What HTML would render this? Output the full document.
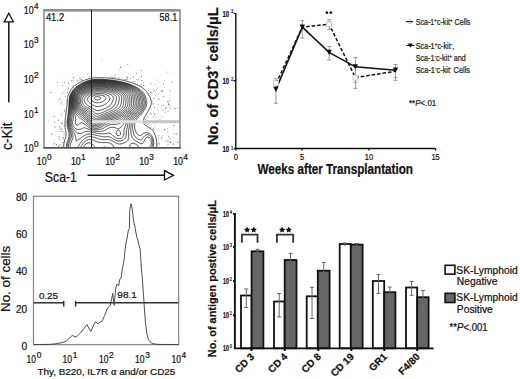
<!DOCTYPE html>
<html><head><meta charset="utf-8">
<style>
html,body{margin:0;padding:0;background:#fff;}
body{width:520px;height:379px;overflow:hidden;}
svg{display:block;font-family:"Liberation Sans",sans-serif;}
text{stroke:#111;stroke-width:0.22px;paint-order:stroke;}
</style></head>
<body>
<svg width="520" height="379" viewBox="0 0 520 379">
<rect width="520" height="379" fill="#fff"/>

<!-- ============ TOP-LEFT: flow contour ============ -->
<g id="tl">
  <g id="contours" fill="none" stroke="#000" stroke-width="0.7">
<path d="M63.8 148.0 L63.7 147.5 L63.7 146.8 L63.7 146.0 L63.7 145.2 L63.8 144.7 L63.8 144.0 L64.0 143.2 L64.1 142.8 L64.2 142.0 L64.4 141.5 L64.5 141.0 L64.7 140.2 L64.9 139.8 L65.0 139.2 L65.2 138.5 L65.4 138.0 L65.5 137.5 L65.7 136.8 L65.8 136.2 L65.9 135.5 L65.9 134.8 L66.0 134.0 L66.0 133.2 L65.9 132.5 L65.8 131.8 L65.8 131.1 L65.7 130.5 L65.5 129.8 L65.5 129.2 L65.3 128.5 L65.2 127.9 L65.2 127.2 L65.1 126.5 L65.0 125.8 L65.0 125.2 L65.0 124.5 L65.0 123.8 L65.0 123.0 L65.0 122.2 L65.0 121.8 L65.1 121.0 L65.1 120.2 L65.2 119.5 L65.2 118.9 L65.3 118.2 L65.4 117.5 L65.5 116.8 L65.6 116.2 L65.7 115.5 L65.8 114.9 L65.8 114.2 L65.9 113.5 L66.0 113.0 L66.1 112.2 L66.2 111.5 L66.3 111.0 L66.4 110.2 L66.5 109.5 L66.6 109.0 L66.7 108.2 L66.8 107.5 L66.8 107.0 L66.9 106.2 L67.0 105.5 L67.0 105.0 L67.1 104.2 L67.1 103.5 L67.2 102.8 L67.2 102.0 L67.3 101.5 L67.3 100.8 L67.4 100.0 L67.5 99.2 L67.5 98.8 L67.6 98.0 L67.8 97.3 L67.9 96.8 L68.0 96.2 L68.2 95.5 L68.3 95.0 L68.5 94.5 L68.8 93.9 L69.0 93.3 L69.2 92.8 L69.5 92.3 L69.8 91.8 L70.0 91.4 L70.2 90.9 L70.5 90.5 L70.9 90.0 L71.2 89.5 L71.5 89.2 L71.8 88.8 L72.2 88.3 L72.5 88.0 L72.9 87.5 L73.2 87.2 L73.7 86.8 L74.0 86.5 L74.5 86.0 L74.8 85.8 L75.2 85.4 L75.7 85.0 L76.0 84.8 L76.5 84.4 L77.0 84.1 L77.5 83.8 L77.8 83.5 L78.2 83.2 L78.8 82.9 L79.2 82.6 L79.8 82.3 L80.2 82.1 L80.8 81.8 L81.2 81.5 L81.8 81.3 L82.2 81.1 L82.8 80.8 L83.2 80.6 L83.8 80.4 L84.2 80.2 L84.8 80.0 L85.5 79.8 L86.0 79.6 L86.5 79.4 L87.1 79.2 L87.8 79.1 L88.2 78.9 L88.9 78.8 L89.5 78.6 L90.0 78.5 L90.8 78.4 L91.3 78.2 L92.0 78.1 L92.8 78.0 L93.2 78.0 L94.0 77.9 L94.8 77.8 L95.5 77.8 L96.0 77.7 L96.8 77.7 L97.5 77.7 L98.2 77.7 L99.0 77.7 L99.8 77.7 L100.5 77.7 L101.2 77.7 L102.0 77.7 L102.5 77.8 L103.2 77.8 L104.0 77.8 L104.8 77.8 L105.5 77.9 L106.2 77.9 L107.0 78.0 L107.5 78.0 L108.2 78.1 L109.0 78.1 L109.8 78.2 L110.2 78.3 L111.0 78.3 L111.8 78.4 L112.4 78.5 L113.0 78.6 L113.8 78.7 L114.4 78.8 L115.0 78.8 L115.8 78.9 L116.2 79.0 L117.0 79.1 L117.8 79.2 L118.2 79.3 L119.0 79.5 L119.5 79.6 L120.2 79.7 L120.8 79.8 L121.5 79.9 L122.0 80.0 L122.8 80.2 L123.2 80.3 L124.0 80.5 L124.5 80.6 L125.1 80.8 L125.8 80.9 L126.2 81.1 L127.0 81.2 L127.5 81.4 L128.0 81.5 L128.7 81.8 L129.2 81.9 L129.8 82.1 L130.3 82.2 L131.0 82.5 L131.5 82.6 L132.0 82.8 L132.5 83.0 L133.2 83.2 L133.8 83.5 L134.2 83.7 L134.8 83.9 L135.2 84.1 L135.8 84.3 L136.2 84.5 L136.8 84.8 L137.3 85.0 L137.8 85.2 L138.3 85.5 L138.8 85.8 L139.3 86.0 L139.8 86.3 L140.2 86.5 L140.8 86.8 L141.2 87.1 L141.8 87.5 L142.2 87.8 L142.5 88.0 L143.0 88.3 L143.5 88.7 L143.9 89.0 L144.2 89.3 L144.8 89.7 L145.0 90.0 L145.5 90.4 L145.8 90.8 L146.2 91.2 L146.5 91.5 L146.9 92.0 L147.2 92.4 L147.5 92.8 L147.9 93.2 L148.2 93.8 L148.5 94.2 L148.8 94.7 L149.0 95.1 L149.2 95.6 L149.5 96.1 L149.8 96.6 L150.0 97.2 L150.2 97.8 L150.4 98.2 L150.6 98.8 L150.8 99.2 L151.0 100.0 L151.1 100.5 L151.2 101.1 L151.3 101.8 L151.3 102.5 L151.3 103.2 L151.2 103.8 L151.1 104.5 L150.9 105.0 L150.8 105.5 L150.5 106.2 L150.3 106.8 L150.1 107.2 L149.9 107.8 L149.6 108.2 L149.4 108.8 L149.1 109.2 L148.9 109.8 L148.6 110.2 L148.3 110.8 L148.0 111.2 L147.8 111.7 L147.5 112.1 L147.2 112.5 L147.0 113.0 L146.7 113.5 L146.3 114.0 L146.0 114.5 L145.8 115.0 L145.5 115.4 L145.2 115.8 L145.0 116.3 L144.7 116.8 L144.5 117.2 L144.2 117.8 L144.0 118.3 L143.8 119.0 L143.6 119.5 L143.5 120.0 L143.4 120.8 L143.3 121.5 L143.4 122.2 L143.5 122.8 L143.8 123.4 L144.0 123.8 L144.3 124.2 L144.7 124.8 L145.0 125.0 L145.5 125.4 L145.9 125.8 L146.3 126.0 L146.8 126.3 L147.2 126.6 L147.8 126.8 L148.2 127.1 L148.8 127.4 L149.2 127.7 L149.7 128.0 L150.1 128.2 L150.5 128.5 L151.0 128.9 L151.4 129.2 L151.8 129.6 L152.1 130.0 L152.5 130.4 L152.8 130.8 L153.2 131.2 L153.5 131.8 L153.8 132.2 L154.0 132.6 L154.2 133.1 L154.5 133.6 L154.8 134.2 L155.0 134.8 L155.2 135.2 L155.4 135.8 L155.5 136.2 L155.7 137.0 L155.9 137.5 L156.0 138.0 L156.2 138.8 L156.3 139.2 L156.4 140.0 L156.5 140.5 L156.6 141.2 L156.7 142.0 L156.8 142.5 L156.8 143.2 L156.8 144.0 L156.8 144.8 L156.8 145.5 L156.7 146.0 L156.6 146.8 L156.5 147.5 L156.4 148.0"/>
<path d="M66.5 148.0 L66.4 147.2 L66.4 146.5 L66.4 145.8 L66.5 145.0 L66.5 144.5 L66.7 143.8 L66.8 143.2 L67.0 142.7 L67.2 142.0 L67.4 141.5 L67.6 141.0 L67.8 140.5 L68.0 139.9 L68.2 139.2 L68.4 138.8 L68.6 138.2 L68.8 137.6 L68.9 137.0 L69.0 136.4 L69.1 135.8 L69.1 135.0 L69.1 134.2 L69.0 133.5 L69.0 133.0 L68.8 132.2 L68.7 131.8 L68.5 131.0 L68.4 130.5 L68.2 129.9 L68.1 129.2 L67.9 128.8 L67.8 128.1 L67.6 127.5 L67.5 127.0 L67.3 126.2 L67.2 125.7 L67.2 125.0 L67.1 124.2 L67.1 123.5 L67.1 122.8 L67.1 122.0 L67.1 121.2 L67.2 120.5 L67.2 119.8 L67.3 119.2 L67.4 118.5 L67.5 117.8 L67.6 117.2 L67.7 116.5 L67.8 115.9 L67.8 115.2 L67.9 114.5 L68.0 114.0 L68.1 113.2 L68.2 112.5 L68.3 112.0 L68.3 111.2 L68.4 110.5 L68.5 109.8 L68.5 109.2 L68.6 108.5 L68.7 107.8 L68.8 107.1 L68.8 106.5 L68.9 105.8 L68.9 105.0 L68.9 104.2 L69.0 103.5 L69.0 102.8 L69.0 102.2 L69.1 101.5 L69.1 100.8 L69.2 100.0 L69.2 99.2 L69.3 98.8 L69.4 98.0 L69.5 97.5 L69.7 96.8 L69.8 96.2 L70.0 95.6 L70.2 95.0 L70.4 94.5 L70.6 94.0 L70.9 93.5 L71.1 93.0 L71.4 92.5 L71.7 92.0 L72.0 91.5 L72.2 91.2 L72.6 90.8 L73.0 90.2 L73.2 89.9 L73.6 89.5 L74.0 89.0 L74.3 88.8 L74.8 88.3 L75.0 88.0 L75.5 87.6 L75.9 87.2 L76.2 86.9 L76.8 86.5 L77.1 86.2 L77.5 86.0 L78.0 85.6 L78.5 85.3 L78.9 85.0 L79.3 84.8 L79.8 84.4 L80.2 84.1 L80.8 83.8 L81.2 83.6 L81.8 83.3 L82.2 83.0 L82.8 82.8 L83.2 82.5 L83.8 82.3 L84.2 82.1 L84.8 81.9 L85.2 81.7 L85.8 81.5 L86.4 81.2 L87.0 81.0 L87.5 80.9 L88.0 80.7 L88.8 80.5 L89.2 80.4 L89.8 80.2 L90.5 80.1 L91.0 80.0 L91.8 79.8 L92.3 79.8 L93.0 79.6 L93.8 79.6 L94.2 79.5 L95.0 79.4 L95.8 79.4 L96.5 79.3 L97.2 79.3 L98.0 79.3 L98.8 79.3 L99.5 79.3 L100.2 79.3 L101.0 79.3 L101.8 79.4 L102.5 79.4 L103.2 79.4 L104.0 79.5 L104.8 79.5 L105.2 79.5 L106.0 79.6 L106.8 79.6 L107.5 79.7 L108.2 79.8 L108.8 79.8 L109.5 79.9 L110.2 79.9 L110.8 80.0 L111.5 80.1 L112.2 80.2 L112.8 80.2 L113.5 80.3 L114.2 80.5 L114.8 80.5 L115.5 80.6 L116.2 80.8 L116.8 80.8 L117.5 81.0 L118.0 81.1 L118.8 81.2 L119.2 81.3 L120.0 81.5 L120.5 81.6 L121.2 81.7 L121.8 81.9 L122.3 82.0 L123.0 82.2 L123.5 82.3 L124.2 82.5 L124.8 82.6 L125.2 82.8 L126.0 83.0 L126.5 83.1 L127.0 83.3 L127.7 83.5 L128.2 83.7 L128.8 83.8 L129.2 84.0 L129.9 84.2 L130.5 84.5 L131.0 84.7 L131.5 84.9 L132.0 85.1 L132.5 85.3 L133.0 85.5 L133.5 85.8 L134.1 86.0 L134.6 86.2 L135.1 86.5 L135.6 86.8 L136.0 87.0 L136.5 87.3 L137.0 87.5 L137.5 87.8 L138.0 88.2 L138.5 88.5 L138.9 88.8 L139.2 89.0 L139.8 89.4 L140.2 89.8 L140.5 90.0 L141.0 90.4 L141.4 90.8 L141.8 91.1 L142.1 91.5 L142.5 91.9 L142.8 92.2 L143.2 92.8 L143.5 93.2 L143.8 93.5 L144.1 94.0 L144.4 94.5 L144.6 95.0 L144.9 95.5 L145.1 96.0 L145.3 96.5 L145.5 97.0 L145.7 97.8 L145.9 98.2 L146.0 98.8 L146.2 99.5 L146.4 100.0 L146.5 100.5 L146.7 101.2 L146.8 101.8 L146.8 102.5 L146.8 103.2 L146.8 103.8 L146.6 104.5 L146.5 105.1 L146.3 105.8 L146.1 106.2 L146.0 106.8 L145.8 107.3 L145.5 107.9 L145.2 108.4 L145.0 108.9 L144.8 109.4 L144.5 109.8 L144.2 110.2 L143.9 110.8 L143.6 111.2 L143.2 111.7 L143.0 112.1 L142.7 112.5 L142.3 113.0 L142.0 113.3 L141.7 113.8 L141.2 114.2 L141.0 114.5 L140.5 115.0 L140.2 115.3 L139.8 115.8 L139.5 116.1 L139.1 116.5 L138.8 116.9 L138.4 117.2 L138.0 117.7 L137.7 118.0 L137.3 118.5 L137.0 118.9 L136.7 119.2 L136.4 119.8 L136.0 120.2 L135.8 120.8 L135.5 121.2 L135.3 121.8 L135.2 122.2 L135.0 122.9 L134.9 123.5 L134.8 124.2 L134.7 124.8 L134.7 125.5 L134.7 126.2 L134.7 127.0 L134.7 127.8 L134.8 128.4 L134.9 129.0 L135.0 129.5 L135.2 130.2 L135.4 130.8 L135.6 131.2 L135.8 131.8 L136.1 132.2 L136.3 132.8 L136.6 133.2 L137.0 133.8 L137.2 134.1 L137.6 134.5 L138.0 134.8 L138.5 135.2 L139.0 135.4 L139.5 135.5 L140.1 135.5 L140.8 135.3 L141.2 135.1 L141.7 134.8 L142.1 134.5 L142.5 134.2 L143.0 133.9 L143.5 133.5 L144.0 133.3 L144.5 133.1 L145.0 132.9 L145.6 132.8 L146.2 132.7 L147.0 132.7 L147.5 132.8 L148.2 132.9 L148.8 133.1 L149.2 133.3 L149.8 133.6 L150.2 134.0 L150.5 134.2 L151.0 134.7 L151.2 135.0 L151.6 135.5 L152.0 136.0 L152.2 136.5 L152.5 137.0 L152.7 137.5 L152.9 138.0 L153.1 138.5 L153.3 139.0 L153.5 139.8 L153.6 140.2 L153.7 141.0 L153.8 141.7 L153.8 142.2 L153.8 143.0 L153.8 143.8 L153.7 144.2 L153.6 145.0 L153.5 145.6 L153.4 146.2 L153.2 146.8 L153.0 147.5 L152.9 148.0"/>
<path d="M67.4 148.0 L67.3 147.2 L67.3 146.5 L67.3 145.8 L67.4 145.0 L67.5 144.5 L67.7 143.8 L67.9 143.2 L68.0 142.8 L68.2 142.1 L68.5 141.5 L68.7 141.0 L68.9 140.5 L69.1 140.0 L69.3 139.5 L69.5 138.9 L69.7 138.2 L69.8 137.8 L70.0 137.0 L70.1 136.5 L70.2 135.8 L70.2 135.0 L70.1 134.2 L70.1 133.5 L70.0 133.0 L69.8 132.2 L69.7 131.8 L69.5 131.2 L69.3 130.5 L69.1 130.0 L69.0 129.5 L68.8 128.9 L68.6 128.2 L68.4 127.8 L68.2 127.2 L68.1 126.5 L68.0 126.0 L67.9 125.2 L67.8 124.5 L67.8 123.8 L67.7 123.2 L67.7 122.5 L67.8 121.9 L67.8 121.2 L67.8 120.5 L67.9 119.8 L68.0 119.0 L68.1 118.5 L68.2 117.8 L68.2 117.2 L68.4 116.5 L68.5 115.8 L68.5 115.2 L68.6 114.5 L68.7 113.8 L68.8 113.2 L68.9 112.5 L68.9 111.8 L69.0 111.1 L69.0 110.5 L69.1 109.8 L69.2 109.0 L69.2 108.2 L69.3 107.8 L69.3 107.0 L69.4 106.2 L69.4 105.5 L69.4 104.8 L69.5 104.0 L69.5 103.3 L69.5 102.8 L69.6 102.0 L69.6 101.2 L69.6 100.5 L69.7 99.8 L69.8 99.1 L69.8 98.5 L70.0 97.8 L70.1 97.2 L70.2 96.5 L70.4 96.0 L70.6 95.5 L70.8 95.0 L71.0 94.4 L71.2 93.8 L71.5 93.3 L71.8 92.9 L72.0 92.5 L72.3 92.0 L72.6 91.5 L73.0 91.0 L73.2 90.7 L73.6 90.2 L74.0 89.8 L74.3 89.5 L74.8 89.0 L75.0 88.8 L75.5 88.3 L75.8 88.0 L76.2 87.6 L76.7 87.2 L77.0 87.0 L77.5 86.6 L78.0 86.2 L78.3 86.0 L78.8 85.7 L79.2 85.4 L79.8 85.1 L80.2 84.8 L80.7 84.5 L81.1 84.2 L81.5 84.0 L82.0 83.7 L82.5 83.5 L83.0 83.2 L83.5 83.0 L84.0 82.8 L84.6 82.5 L85.2 82.2 L85.8 82.0 L86.2 81.8 L86.8 81.7 L87.2 81.5 L88.0 81.2 L88.5 81.1 L89.0 81.0 L89.8 80.8 L90.2 80.6 L90.9 80.5 L91.5 80.4 L92.2 80.2 L92.8 80.2 L93.5 80.1 L94.0 80.0 L94.8 79.9 L95.5 79.9 L96.2 79.8 L97.0 79.8 L97.8 79.8 L98.5 79.8 L99.2 79.8 L100.0 79.8 L100.8 79.8 L101.5 79.8 L102.2 79.8 L103.0 79.9 L103.8 79.9 L104.5 80.0 L105.2 80.0 L105.8 80.0 L106.5 80.1 L107.2 80.1 L108.0 80.2 L108.5 80.3 L109.2 80.3 L110.0 80.4 L110.8 80.5 L111.2 80.5 L112.0 80.6 L112.8 80.7 L113.2 80.8 L114.0 80.9 L114.5 81.0 L115.2 81.1 L116.0 81.2 L116.5 81.3 L117.2 81.5 L117.8 81.5 L118.5 81.7 L119.0 81.8 L119.8 82.0 L120.2 82.1 L121.0 82.2 L121.5 82.3 L122.1 82.5 L122.8 82.7 L123.2 82.8 L124.0 83.0 L124.5 83.1 L125.0 83.3 L125.8 83.5 L126.2 83.6 L126.8 83.8 L127.4 84.0 L128.0 84.2 L128.5 84.4 L129.0 84.6 L129.5 84.8 L130.1 85.0 L130.8 85.2 L131.2 85.4 L131.8 85.7 L132.2 85.9 L132.8 86.1 L133.2 86.3 L133.8 86.6 L134.2 86.8 L134.8 87.1 L135.2 87.4 L135.8 87.6 L136.2 87.9 L136.7 88.2 L137.1 88.5 L137.5 88.8 L138.0 89.1 L138.5 89.4 L138.9 89.8 L139.2 90.0 L139.8 90.5 L140.1 90.8 L140.5 91.1 L140.9 91.5 L141.2 91.9 L141.5 92.2 L142.0 92.8 L142.2 93.1 L142.5 93.5 L142.8 94.0 L143.1 94.5 L143.4 95.0 L143.6 95.5 L143.9 96.0 L144.1 96.5 L144.2 97.1 L144.5 97.8 L144.6 98.2 L144.8 98.8 L144.9 99.5 L145.1 100.0 L145.2 100.8 L145.3 101.2 L145.5 102.0 L145.5 102.5 L145.5 103.2 L145.5 103.8 L145.4 104.5 L145.2 105.0 L145.0 105.8 L144.9 106.2 L144.7 106.8 L144.5 107.2 L144.2 107.8 L144.0 108.3 L143.8 108.8 L143.5 109.3 L143.2 109.8 L142.9 110.2 L142.6 110.8 L142.2 111.2 L142.0 111.6 L141.7 112.0 L141.3 112.5 L141.0 112.8 L140.6 113.2 L140.2 113.6 L139.9 114.0 L139.5 114.4 L139.1 114.8 L138.8 115.1 L138.4 115.5 L138.0 115.8 L137.6 116.2 L137.2 116.6 L136.8 117.0 L136.5 117.3 L136.1 117.8 L135.8 118.1 L135.4 118.5 L135.0 119.0 L134.8 119.3 L134.4 119.8 L134.1 120.2 L133.9 120.8 L133.7 121.2 L133.5 121.8 L133.3 122.5 L133.1 123.0 L133.0 123.8 L132.9 124.2 L132.8 125.0 L132.8 125.8 L132.7 126.2 L132.7 127.0 L132.7 127.8 L132.7 128.5 L132.8 129.1 L132.8 129.8 L132.9 130.5 L133.0 131.0 L133.1 131.8 L133.3 132.2 L133.5 133.0 L133.6 133.5 L133.8 134.0 L134.0 134.6 L134.2 135.1 L134.5 135.6 L134.8 136.0 L135.1 136.5 L135.4 137.0 L135.8 137.4 L136.1 137.8 L136.5 138.1 L137.0 138.5 L137.4 138.8 L137.8 139.0 L138.3 139.2 L138.8 139.5 L139.5 139.7 L140.0 139.8 L140.5 139.8 L141.2 139.5 L141.7 139.2 L142.0 139.0 L142.5 138.5 L142.8 138.2 L143.1 137.8 L143.5 137.3 L143.8 136.9 L144.1 136.5 L144.5 136.1 L144.8 135.8 L145.2 135.4 L145.8 135.1 L146.2 134.9 L146.8 134.7 L147.5 134.7 L148.2 134.8 L148.8 134.9 L149.2 135.1 L149.8 135.4 L150.1 135.8 L150.5 136.1 L150.8 136.5 L151.2 137.0 L151.5 137.5 L151.8 137.9 L152.0 138.5 L152.2 139.0 L152.3 139.5 L152.5 140.1 L152.6 140.8 L152.7 141.5 L152.8 142.2 L152.8 142.7 L152.7 143.2 L152.6 144.0 L152.5 144.8 L152.4 145.2 L152.2 145.8 L152.0 146.5 L151.9 147.0 L151.7 147.5 L151.4 148.0"/>
<path d="M95.3 148.0 L95.1 147.5 L94.8 147.0 L94.5 146.5 L94.2 146.1 L93.9 145.8 L93.5 145.2 L93.2 145.0 L92.8 144.5 L92.5 144.2 L92.0 143.9 L91.5 143.5 L91.0 143.2 L90.5 143.0 L90.0 142.9 L89.2 142.8 L88.5 142.8 L87.8 143.0 L87.2 143.2 L86.8 143.4 L86.2 143.7 L85.9 144.0 L85.5 144.3 L85.1 144.8 L84.8 145.1 L84.5 145.5 L84.1 146.0 L83.8 146.5 L83.6 147.0 L83.3 147.5 L83.1 148.0"/>
<path d="M106.6 148.0 L106.2 147.6 L105.8 147.3 L105.2 147.1 L104.5 147.1 L103.8 147.2 L103.2 147.4 L102.8 147.6 L102.3 148.0"/>
<path d="M68.7 148.0 L68.5 147.2 L68.5 146.8 L68.5 146.0 L68.5 145.5 L68.7 144.8 L68.8 144.2 L69.0 143.5 L69.2 143.0 L69.4 142.5 L69.6 142.0 L69.8 141.5 L70.0 141.0 L70.2 140.4 L70.5 139.8 L70.7 139.2 L70.9 138.8 L71.0 138.2 L71.2 137.5 L71.3 137.0 L71.4 136.2 L71.4 135.5 L71.4 134.8 L71.3 134.0 L71.2 133.5 L71.0 132.8 L70.9 132.2 L70.7 131.8 L70.5 131.2 L70.2 130.5 L70.1 130.0 L69.9 129.5 L69.7 129.0 L69.5 128.5 L69.2 127.8 L69.1 127.2 L68.9 126.8 L68.8 126.0 L68.7 125.5 L68.6 124.8 L68.5 124.1 L68.5 123.5 L68.5 122.8 L68.5 122.0 L68.5 121.3 L68.5 120.8 L68.6 120.0 L68.7 119.2 L68.8 118.8 L68.9 118.0 L69.0 117.2 L69.1 116.8 L69.2 116.0 L69.2 115.5 L69.3 114.8 L69.4 114.0 L69.5 113.3 L69.5 112.8 L69.6 112.0 L69.7 111.2 L69.7 110.5 L69.8 110.0 L69.8 109.2 L69.8 108.5 L69.9 107.8 L69.9 107.0 L70.0 106.2 L70.0 105.5 L70.0 104.9 L70.0 104.2 L70.0 103.5 L70.1 102.8 L70.1 102.0 L70.1 101.2 L70.2 100.5 L70.2 99.8 L70.3 99.2 L70.3 98.5 L70.5 97.8 L70.6 97.2 L70.8 96.6 L70.9 96.0 L71.1 95.5 L71.3 95.0 L71.5 94.5 L71.8 94.0 L72.0 93.5 L72.3 93.0 L72.6 92.5 L72.9 92.0 L73.2 91.5 L73.5 91.2 L73.9 90.8 L74.2 90.3 L74.5 90.0 L75.0 89.5 L75.2 89.2 L75.8 88.8 L76.0 88.5 L76.5 88.1 L76.9 87.8 L77.2 87.5 L77.8 87.1 L78.2 86.8 L78.6 86.5 L79.0 86.2 L79.5 85.9 L80.0 85.5 L80.4 85.2 L80.9 85.0 L81.3 84.8 L81.8 84.5 L82.2 84.2 L82.8 83.9 L83.2 83.7 L83.8 83.4 L84.2 83.2 L84.8 83.0 L85.3 82.8 L85.9 82.5 L86.5 82.3 L87.0 82.1 L87.5 81.9 L88.1 81.8 L88.8 81.5 L89.2 81.4 L89.9 81.2 L90.5 81.1 L91.0 81.0 L91.8 80.8 L92.2 80.7 L93.0 80.6 L93.8 80.5 L94.2 80.5 L95.0 80.4 L95.8 80.3 L96.5 80.3 L97.2 80.3 L98.0 80.3 L98.8 80.3 L99.5 80.3 L100.2 80.3 L101.0 80.3 L101.8 80.3 L102.5 80.3 L103.2 80.4 L104.0 80.4 L104.8 80.5 L105.4 80.5 L106.0 80.5 L106.8 80.6 L107.5 80.7 L108.2 80.7 L108.8 80.8 L109.5 80.9 L110.2 80.9 L110.8 81.0 L111.5 81.1 L112.2 81.2 L112.8 81.3 L113.5 81.4 L114.2 81.5 L114.8 81.6 L115.5 81.7 L116.0 81.8 L116.8 81.9 L117.3 82.0 L118.0 82.1 L118.6 82.2 L119.2 82.4 L119.8 82.5 L120.5 82.7 L121.0 82.8 L121.8 83.0 L122.2 83.1 L122.8 83.2 L123.5 83.4 L124.0 83.6 L124.6 83.8 L125.2 83.9 L125.8 84.1 L126.2 84.3 L127.0 84.5 L127.5 84.7 L128.0 84.9 L128.5 85.0 L129.0 85.2 L129.7 85.5 L130.2 85.7 L130.8 85.9 L131.2 86.2 L131.8 86.4 L132.2 86.6 L132.8 86.9 L133.2 87.1 L133.8 87.4 L134.2 87.6 L134.8 87.9 L135.2 88.2 L135.7 88.5 L136.1 88.8 L136.5 89.0 L137.0 89.4 L137.5 89.7 L137.9 90.0 L138.2 90.3 L138.8 90.7 L139.0 91.0 L139.5 91.4 L139.8 91.8 L140.2 92.2 L140.5 92.5 L140.9 93.0 L141.2 93.5 L141.5 93.9 L141.8 94.3 L142.0 94.8 L142.3 95.2 L142.5 95.8 L142.8 96.4 L143.0 97.0 L143.1 97.5 L143.2 98.1 L143.4 98.8 L143.5 99.2 L143.7 100.0 L143.8 100.5 L144.0 101.2 L144.1 101.8 L144.2 102.5 L144.2 103.2 L144.1 104.0 L144.0 104.7 L143.9 105.2 L143.7 105.8 L143.5 106.5 L143.3 107.0 L143.1 107.5 L142.9 108.0 L142.6 108.5 L142.3 109.0 L142.0 109.5 L141.8 110.0 L141.5 110.3 L141.2 110.8 L140.8 111.2 L140.5 111.6 L140.2 112.0 L139.8 112.5 L139.5 112.8 L139.0 113.2 L138.8 113.5 L138.3 114.0 L138.0 114.2 L137.5 114.7 L137.2 115.0 L136.8 115.4 L136.3 115.8 L136.0 116.0 L135.5 116.5 L135.2 116.8 L134.8 117.2 L134.4 117.5 L134.0 118.0 L133.7 118.2 L133.3 118.8 L133.0 119.2 L132.8 119.6 L132.5 120.0 L132.2 120.5 L132.0 121.1 L131.8 121.8 L131.6 122.2 L131.5 122.8 L131.3 123.5 L131.2 124.1 L131.2 124.8 L131.1 125.5 L131.0 126.2 L130.9 126.8 L130.9 127.5 L130.8 128.2 L130.8 129.0 L130.8 129.8 L130.8 130.5 L130.8 131.2 L130.9 132.0 L130.9 132.8 L131.0 133.2 L131.1 134.0 L131.2 134.6 L131.4 135.2 L131.5 135.8 L131.8 136.4 L132.0 137.0 L132.2 137.5 L132.5 137.9 L132.8 138.3 L133.1 138.8 L133.5 139.2 L133.9 139.5 L134.2 139.8 L134.8 140.2 L135.2 140.5 L135.6 140.8 L136.0 141.0 L136.5 141.3 L137.0 141.6 L137.5 141.9 L138.0 142.2 L138.5 142.5 L139.0 142.7 L139.5 143.0 L140.0 143.2 L140.5 143.5 L141.0 143.6 L141.8 143.7 L142.4 143.5 L142.8 143.2 L143.2 142.8 L143.5 142.3 L143.8 141.9 L144.0 141.4 L144.2 140.9 L144.5 140.4 L144.8 139.9 L145.0 139.4 L145.3 139.0 L145.6 138.5 L146.0 138.0 L146.2 137.7 L146.8 137.4 L147.2 137.1 L147.8 137.0 L148.3 137.0 L149.0 137.2 L149.5 137.5 L149.8 137.8 L150.2 138.2 L150.5 138.6 L150.8 139.1 L151.0 139.7 L151.2 140.2 L151.3 140.8 L151.4 141.5 L151.4 142.2 L151.4 143.0 L151.3 143.8 L151.1 144.2 L151.0 144.8 L150.8 145.4 L150.5 145.9 L150.2 146.3 L150.0 146.8 L149.5 147.2 L149.2 147.5 L148.8 147.9"/>
<path d="M114.0 148.0 L113.8 147.2 L113.6 146.8 L113.4 146.2 L113.2 145.8 L112.8 145.2 L112.5 144.9 L112.1 144.5 L111.8 144.2 L111.2 143.8 L110.8 143.5 L110.2 143.3 L109.8 143.1 L109.2 142.9 L108.6 142.8 L108.0 142.7 L107.2 142.6 L106.5 142.6 L105.8 142.6 L105.0 142.6 L104.2 142.6 L103.5 142.6 L102.8 142.6 L102.0 142.6 L101.2 142.6 L100.5 142.5 L100.0 142.5 L99.2 142.4 L98.6 142.2 L98.0 142.1 L97.5 142.0 L96.9 141.8 L96.3 141.5 L95.8 141.3 L95.2 141.1 L94.8 140.8 L94.2 140.6 L93.8 140.4 L93.2 140.2 L92.7 140.0 L92.0 139.8 L91.5 139.6 L90.8 139.5 L90.2 139.5 L89.5 139.4 L88.9 139.5 L88.2 139.6 L87.8 139.8 L87.2 140.0 L86.7 140.2 L86.2 140.5 L85.8 140.8 L85.2 141.2 L84.9 141.5 L84.5 141.8 L84.1 142.2 L83.8 142.6 L83.4 143.0 L83.0 143.5 L82.8 143.8 L82.4 144.2 L82.1 144.8 L81.8 145.2 L81.5 145.7 L81.2 146.2 L81.0 146.7 L80.8 147.2 L80.5 147.8"/>
<path d="M70.5 148.0 L70.3 147.2 L70.2 146.8 L70.2 146.0 L70.2 145.2 L70.3 144.8 L70.5 144.0 L70.7 143.5 L70.9 143.0 L71.1 142.5 L71.3 142.0 L71.5 141.5 L71.8 141.0 L72.0 140.4 L72.2 139.8 L72.5 139.2 L72.6 138.8 L72.8 138.2 L72.9 137.5 L73.0 136.8 L73.0 136.2 L73.0 135.8 L72.9 135.0 L72.8 134.2 L72.7 133.8 L72.5 133.2 L72.2 132.6 L72.0 132.0 L71.8 131.5 L71.6 131.0 L71.4 130.5 L71.1 130.0 L70.9 129.5 L70.7 129.0 L70.5 128.5 L70.2 128.0 L70.0 127.3 L69.8 126.8 L69.7 126.2 L69.5 125.5 L69.4 125.0 L69.3 124.2 L69.3 123.5 L69.2 122.8 L69.3 122.5 L69.3 121.8 L69.3 121.0 L69.4 120.2 L69.5 119.5 L69.6 119.0 L69.7 118.2 L69.8 117.8 L69.9 117.0 L70.0 116.2 L70.1 115.8 L70.1 115.0 L70.2 114.2 L70.3 113.8 L70.3 113.0 L70.4 112.2 L70.4 111.5 L70.4 110.8 L70.4 110.0 L70.5 109.2 L70.5 108.5 L70.5 108.0 L70.5 107.2 L70.6 106.5 L70.6 105.8 L70.6 105.0 L70.6 104.2 L70.6 103.5 L70.6 102.8 L70.6 102.0 L70.6 101.2 L70.7 100.5 L70.7 99.8 L70.8 99.2 L70.9 98.5 L71.0 97.8 L71.1 97.2 L71.2 96.7 L71.5 96.0 L71.6 95.5 L71.8 95.0 L72.1 94.5 L72.3 94.0 L72.6 93.5 L72.9 93.0 L73.2 92.5 L73.5 92.1 L73.8 91.7 L74.1 91.2 L74.5 90.8 L74.8 90.5 L75.2 90.0 L75.5 89.7 L76.0 89.3 L76.3 89.0 L76.8 88.6 L77.2 88.2 L77.5 88.0 L78.0 87.6 L78.4 87.2 L78.8 87.0 L79.2 86.7 L79.8 86.3 L80.2 86.0 L80.7 85.8 L81.1 85.5 L81.5 85.2 L82.0 85.0 L82.5 84.7 L83.0 84.4 L83.5 84.2 L84.0 83.9 L84.5 83.7 L85.0 83.5 L85.5 83.2 L86.1 83.0 L86.7 82.8 L87.2 82.6 L87.8 82.4 L88.2 82.2 L89.0 82.0 L89.5 81.9 L90.0 81.7 L90.8 81.6 L91.2 81.4 L92.0 81.3 L92.5 81.2 L93.2 81.1 L94.0 81.0 L94.5 80.9 L95.2 80.9 L96.0 80.8 L96.8 80.8 L97.5 80.8 L98.2 80.8 L99.0 80.8 L99.8 80.8 L100.5 80.8 L101.2 80.8 L102.0 80.8 L102.8 80.9 L103.5 80.9 L104.2 80.9 L105.0 81.0 L105.5 81.0 L106.2 81.1 L107.0 81.1 L107.8 81.2 L108.3 81.2 L109.0 81.3 L109.8 81.4 L110.5 81.5 L111.0 81.5 L111.8 81.6 L112.5 81.7 L113.0 81.8 L113.8 81.9 L114.2 82.0 L115.0 82.1 L115.7 82.2 L116.2 82.4 L117.0 82.5 L117.5 82.6 L118.2 82.7 L118.8 82.9 L119.4 83.0 L120.0 83.1 L120.5 83.3 L121.2 83.4 L121.8 83.6 L122.4 83.8 L123.0 83.9 L123.5 84.0 L124.2 84.2 L124.8 84.4 L125.2 84.6 L125.8 84.8 L126.5 85.0 L127.0 85.2 L127.5 85.4 L128.0 85.5 L128.5 85.8 L129.2 86.0 L129.8 86.2 L130.2 86.5 L130.8 86.7 L131.2 86.9 L131.8 87.2 L132.2 87.4 L132.8 87.7 L133.2 87.9 L133.8 88.2 L134.2 88.5 L134.6 88.8 L135.0 89.0 L135.5 89.3 L136.0 89.7 L136.4 90.0 L136.8 90.2 L137.2 90.6 L137.7 91.0 L138.0 91.3 L138.5 91.8 L138.8 92.1 L139.1 92.5 L139.5 92.9 L139.8 93.3 L140.1 93.8 L140.4 94.2 L140.7 94.8 L141.0 95.2 L141.2 95.8 L141.4 96.2 L141.6 96.8 L141.8 97.4 L141.9 98.0 L142.0 98.5 L142.2 99.2 L142.3 99.8 L142.5 100.5 L142.6 101.0 L142.7 101.8 L142.8 102.3 L142.8 103.0 L142.8 103.8 L142.7 104.2 L142.6 105.0 L142.5 105.5 L142.2 106.2 L142.0 106.8 L141.8 107.2 L141.6 107.8 L141.4 108.2 L141.1 108.8 L140.8 109.2 L140.5 109.7 L140.2 110.1 L139.9 110.5 L139.5 111.0 L139.2 111.3 L138.9 111.8 L138.5 112.1 L138.2 112.5 L137.8 112.9 L137.4 113.2 L137.0 113.6 L136.5 114.0 L136.2 114.2 L135.8 114.7 L135.4 115.0 L135.0 115.3 L134.5 115.7 L134.2 116.0 L133.8 116.4 L133.4 116.8 L133.0 117.1 L132.6 117.5 L132.2 117.9 L132.0 118.2 L131.6 118.8 L131.3 119.2 L131.0 119.7 L130.8 120.2 L130.5 120.7 L130.3 121.2 L130.1 121.8 L130.0 122.2 L129.8 123.0 L129.7 123.5 L129.6 124.2 L129.5 124.8 L129.4 125.5 L129.3 126.2 L129.2 126.8 L129.1 127.5 L129.0 128.0 L128.9 128.8 L128.8 129.5 L128.7 130.0 L128.7 130.8 L128.6 131.5 L128.6 132.2 L128.6 133.0 L128.6 133.8 L128.7 134.5 L128.7 135.2 L128.7 136.0 L128.6 136.8 L128.6 137.5 L128.5 138.2 L128.4 138.8 L128.2 139.4 L128.0 140.0 L127.8 140.5 L127.5 140.8 L127.1 141.2 L126.7 141.5 L126.2 141.8 L125.8 142.1 L125.2 142.3 L124.8 142.5 L124.2 142.8 L123.7 143.0 L123.1 143.2 L122.5 143.5 L122.0 143.6 L121.5 143.8 L120.8 143.9 L120.2 144.0 L119.5 144.0 L119.0 144.0 L118.2 143.9 L117.8 143.7 L117.2 143.5 L116.6 143.2 L116.1 143.0 L115.6 142.8 L115.2 142.5 L114.7 142.2 L114.2 142.0 L113.8 141.7 L113.2 141.4 L112.8 141.1 L112.2 140.9 L111.8 140.6 L111.2 140.4 L110.8 140.2 L110.2 140.0 L109.5 139.8 L109.0 139.7 L108.2 139.6 L107.5 139.6 L106.8 139.6 L106.0 139.6 L105.2 139.6 L104.5 139.7 L103.8 139.7 L103.0 139.6 L102.2 139.6 L101.7 139.5 L101.0 139.4 L100.4 139.2 L99.8 139.1 L99.2 139.0 L98.6 138.8 L98.0 138.6 L97.5 138.4 L97.0 138.2 L96.4 138.0 L95.8 137.8 L95.2 137.6 L94.8 137.5 L94.0 137.3 L93.5 137.2 L92.9 137.0 L92.2 136.9 L91.5 136.8 L91.0 136.7 L90.2 136.6 L89.5 136.6 L88.8 136.7 L88.2 136.8 L87.5 137.0 L87.0 137.2 L86.5 137.4 L86.0 137.7 L85.5 138.0 L85.1 138.2 L84.7 138.5 L84.2 138.9 L83.8 139.2 L83.5 139.5 L83.0 140.0 L82.7 140.2 L82.2 140.7 L82.0 141.0 L81.6 141.5 L81.2 141.9 L81.0 142.2 L80.6 142.8 L80.2 143.2 L80.0 143.6 L79.7 144.0 L79.4 144.5 L79.1 145.0 L78.8 145.5 L78.5 146.0 L78.3 146.5 L78.0 147.0 L77.8 147.5 L77.5 147.9"/>
<path d="M130.1 148.0 L130.0 147.2 L130.0 146.8 L130.0 146.0 L130.0 145.5 L130.2 144.8 L130.5 144.2 L130.8 143.9 L131.2 143.5 L131.8 143.4 L132.5 143.3 L133.2 143.3 L134.0 143.5 L134.5 143.6 L135.0 143.8 L135.5 144.0 L136.0 144.3 L136.5 144.6 L137.0 145.0 L137.3 145.2 L137.7 145.8 L138.0 146.2 L138.2 146.8 L138.3 147.2 L138.2 147.8"/>
<path d="M121.0 140.8 L120.2 140.9 L119.5 141.0 L118.8 141.0 L118.0 140.9 L117.3 140.8 L116.8 140.6 L116.2 140.4 L115.8 140.2 L115.2 140.0 L114.8 139.7 L114.2 139.4 L113.8 139.1 L113.2 138.9 L112.8 138.6 L112.2 138.3 L111.8 138.0 L111.4 137.8 L110.9 137.5 L110.3 137.2 L109.8 137.1 L109.2 136.9 L108.5 136.8 L108.0 136.7 L107.2 136.7 L106.5 136.7 L106.0 136.8 L105.2 136.8 L104.5 136.8 L103.8 136.8 L103.0 136.8 L102.5 136.7 L101.8 136.6 L101.2 136.5 L100.5 136.3 L100.0 136.2 L99.2 136.0 L98.8 135.9 L98.1 135.8 L97.5 135.6 L97.0 135.5 L96.2 135.3 L95.8 135.2 L95.0 135.0 L94.5 134.9 L93.8 134.8 L93.2 134.7 L92.5 134.5 L92.0 134.4 L91.2 134.3 L90.8 134.2 L90.0 134.1 L89.2 134.0 L88.5 134.0 L87.8 134.1 L87.0 134.2 L86.5 134.4 L86.0 134.6 L85.5 134.8 L85.0 135.1 L84.5 135.4 L84.0 135.7 L83.6 136.0 L83.2 136.2 L82.8 136.6 L82.2 136.9 L81.8 137.2 L81.5 137.5 L81.0 137.8 L80.5 138.2 L80.0 138.5 L79.7 138.8 L79.2 139.1 L78.8 139.4 L78.2 139.7 L77.9 140.0 L77.5 140.3 L77.0 140.6 L76.5 140.9 L76.0 140.5 L75.9 140.0 L75.9 139.2 L75.8 138.5 L75.8 137.9 L75.7 137.2 L75.5 136.5 L75.4 136.0 L75.2 135.5 L75.0 134.8 L74.8 134.2 L74.5 133.8 L74.3 133.2 L74.0 132.8 L73.8 132.2 L73.5 131.8 L73.2 131.4 L73.0 131.0 L72.7 130.5 L72.4 130.0 L72.2 129.5 L71.9 129.0 L71.6 128.5 L71.4 128.0 L71.1 127.5 L70.9 127.0 L70.7 126.5 L70.5 125.8 L70.4 125.2 L70.3 124.5 L70.2 124.0 L70.2 123.2 L70.2 122.5 L70.2 121.8 L70.2 121.0 L70.3 120.5 L70.4 119.8 L70.5 119.2 L70.6 118.5 L70.7 117.8 L70.8 117.2 L70.9 116.5 L71.0 115.8 L71.0 115.2 L71.1 114.5 L71.1 113.8 L71.2 113.0 L71.2 112.2 L71.2 111.5 L71.2 110.8 L71.2 110.0 L71.2 109.2 L71.2 108.5 L71.2 107.8 L71.2 107.0 L71.2 106.2 L71.2 105.5 L71.2 104.8 L71.2 104.0 L71.2 103.2 L71.2 102.5 L71.2 101.8 L71.2 101.0 L71.2 100.2 L71.3 99.8 L71.3 99.0 L71.4 98.2 L71.5 97.8 L71.7 97.0 L71.9 96.5 L72.0 96.0 L72.2 95.4 L72.5 94.8 L72.8 94.3 L73.0 93.8 L73.2 93.4 L73.5 93.0 L73.8 92.5 L74.2 92.0 L74.5 91.6 L74.8 91.2 L75.2 90.8 L75.5 90.5 L76.0 90.0 L76.3 89.8 L76.8 89.3 L77.1 89.0 L77.5 88.7 L78.0 88.3 L78.4 88.0 L78.8 87.7 L79.2 87.3 L79.8 87.0 L80.1 86.8 L80.5 86.5 L81.0 86.2 L81.5 85.9 L82.0 85.6 L82.5 85.3 L83.0 85.0 L83.5 84.8 L84.0 84.5 L84.5 84.3 L85.0 84.1 L85.5 83.8 L86.0 83.6 L86.5 83.4 L87.0 83.2 L87.6 83.0 L88.2 82.8 L88.8 82.6 L89.2 82.5 L90.0 82.3 L90.5 82.2 L91.2 82.0 L91.8 81.9 L92.4 81.8 L93.0 81.7 L93.8 81.5 L94.2 81.5 L95.0 81.4 L95.8 81.3 L96.5 81.3 L97.2 81.3 L98.0 81.3 L98.8 81.3 L99.5 81.3 L100.2 81.3 L101.0 81.3 L101.8 81.3 L102.5 81.4 L103.2 81.4 L104.0 81.4 L104.8 81.5 L105.2 81.5 L106.0 81.6 L106.8 81.6 L107.5 81.7 L108.0 81.8 L108.8 81.8 L109.5 81.9 L110.2 82.0 L110.8 82.1 L111.5 82.1 L112.2 82.2 L112.8 82.3 L113.5 82.4 L114.0 82.5 L114.8 82.6 L115.3 82.8 L116.0 82.9 L116.7 83.0 L117.2 83.1 L117.9 83.2 L118.5 83.4 L119.0 83.5 L119.8 83.7 L120.2 83.8 L121.0 84.0 L121.5 84.1 L122.0 84.3 L122.8 84.5 L123.2 84.6 L123.8 84.8 L124.5 85.0 L125.0 85.2 L125.5 85.3 L126.0 85.5 L126.7 85.8 L127.2 86.0 L127.8 86.2 L128.2 86.4 L128.8 86.6 L129.2 86.8 L129.8 87.0 L130.3 87.2 L130.8 87.5 L131.3 87.8 L131.8 88.0 L132.2 88.3 L132.8 88.6 L133.2 88.8 L133.8 89.2 L134.2 89.5 L134.6 89.8 L135.0 90.0 L135.5 90.4 L135.9 90.8 L136.2 91.0 L136.8 91.5 L137.1 91.8 L137.5 92.2 L137.8 92.5 L138.2 93.0 L138.5 93.4 L138.8 93.8 L139.1 94.2 L139.4 94.8 L139.6 95.2 L139.9 95.8 L140.1 96.2 L140.2 96.8 L140.4 97.5 L140.5 98.0 L140.7 98.8 L140.8 99.2 L140.9 100.0 L141.0 100.5 L141.2 101.2 L141.3 101.8 L141.3 102.5 L141.4 103.2 L141.3 104.0 L141.2 104.7 L141.1 105.2 L141.0 105.8 L140.8 106.5 L140.6 107.0 L140.3 107.5 L140.1 108.0 L139.8 108.5 L139.5 109.0 L139.2 109.4 L139.0 109.8 L138.6 110.2 L138.2 110.7 L138.0 111.0 L137.5 111.5 L137.2 111.8 L136.8 112.2 L136.5 112.5 L136.0 112.9 L135.6 113.2 L135.2 113.6 L134.8 114.0 L134.5 114.2 L134.0 114.6 L133.6 115.0 L133.2 115.3 L132.8 115.7 L132.4 116.0 L132.0 116.4 L131.6 116.8 L131.2 117.1 L130.9 117.5 L130.5 118.0 L130.2 118.3 L129.9 118.8 L129.6 119.2 L129.3 119.8 L129.1 120.2 L128.9 120.8 L128.7 121.2 L128.5 121.8 L128.3 122.5 L128.1 123.0 L128.0 123.5 L127.8 124.2 L127.7 124.8 L127.6 125.5 L127.5 126.0 L127.3 126.8 L127.2 127.2 L127.0 128.0 L126.9 128.5 L126.7 129.0 L126.6 129.8 L126.5 130.3 L126.4 131.0 L126.4 131.8 L126.4 132.5 L126.3 133.2 L126.3 134.0 L126.2 134.5 L126.2 135.2 L126.0 136.0 L125.8 136.5 L125.7 137.0 L125.4 137.5 L125.1 138.0 L124.8 138.5 L124.5 138.8 L124.0 139.2 L123.6 139.5 L123.2 139.8 L122.8 140.1 L122.2 140.3 L121.8 140.5 L121.0 140.8"/>
<path d="M119.0 138.8 L118.5 138.7 L117.8 138.6 L117.2 138.5 L116.5 138.2 L116.0 138.0 L115.5 137.8 L115.1 137.5 L114.8 137.2 L114.2 136.8 L113.8 136.5 L113.5 136.2 L113.0 135.8 L112.8 135.5 L112.3 135.0 L112.0 134.7 L111.5 134.2 L111.2 134.0 L110.8 133.6 L110.2 133.3 L109.8 133.2 L109.0 133.1 L108.2 133.1 L107.5 133.2 L107.0 133.3 L106.2 133.5 L105.8 133.6 L105.0 133.7 L104.5 133.8 L103.8 133.8 L103.0 133.8 L102.2 133.8 L101.5 133.8 L101.0 133.7 L100.2 133.7 L99.5 133.6 L98.9 133.5 L98.2 133.4 L97.5 133.3 L96.9 133.2 L96.2 133.2 L95.5 133.0 L95.0 133.0 L94.2 132.8 L93.8 132.7 L93.0 132.6 L92.5 132.5 L91.8 132.3 L91.2 132.2 L90.6 132.0 L90.0 131.8 L89.5 131.7 L88.8 131.5 L88.2 131.4 L87.5 131.3 L86.8 131.3 L86.0 131.4 L85.4 131.5 L84.8 131.7 L84.2 131.9 L83.8 132.2 L83.2 132.4 L82.8 132.7 L82.2 132.9 L81.8 133.2 L81.2 133.3 L80.6 133.5 L80.0 133.6 L79.2 133.6 L78.8 133.5 L78.1 133.2 L77.6 133.0 L77.2 132.8 L76.8 132.5 L76.2 132.1 L75.9 131.8 L75.5 131.4 L75.1 131.0 L74.8 130.6 L74.4 130.2 L74.0 129.8 L73.8 129.4 L73.4 129.0 L73.1 128.5 L72.8 128.0 L72.5 127.6 L72.2 127.2 L72.0 126.6 L71.8 126.0 L71.6 125.5 L71.5 125.0 L71.3 124.2 L71.3 123.5 L71.2 123.0 L71.2 122.4 L71.3 121.8 L71.4 121.0 L71.5 120.2 L71.5 119.8 L71.7 119.0 L71.8 118.5 L71.9 117.8 L72.0 117.0 L72.0 116.5 L72.1 115.8 L72.1 115.0 L72.1 114.2 L72.1 113.5 L72.1 112.8 L72.1 112.0 L72.0 111.2 L72.0 110.8 L71.9 110.0 L71.9 109.2 L71.9 108.5 L71.8 107.8 L71.8 107.0 L71.8 106.2 L71.8 105.5 L71.8 104.8 L71.8 104.2 L71.7 103.5 L71.7 102.8 L71.7 102.0 L71.8 101.5 L71.8 100.8 L71.8 100.0 L71.9 99.2 L72.0 98.5 L72.0 98.0 L72.2 97.2 L72.3 96.8 L72.5 96.2 L72.8 95.6 L73.0 95.0 L73.2 94.5 L73.5 94.1 L73.8 93.6 L74.0 93.2 L74.3 92.8 L74.7 92.2 L75.0 91.9 L75.3 91.5 L75.8 91.0 L76.0 90.8 L76.5 90.3 L76.8 90.0 L77.2 89.6 L77.7 89.2 L78.0 89.0 L78.5 88.6 L79.0 88.2 L79.3 88.0 L79.8 87.7 L80.2 87.3 L80.8 87.0 L81.2 86.8 L81.6 86.5 L82.0 86.2 L82.5 86.0 L83.0 85.7 L83.5 85.4 L84.0 85.2 L84.5 84.9 L85.0 84.7 L85.5 84.4 L86.0 84.2 L86.6 84.0 L87.2 83.8 L87.8 83.5 L88.2 83.4 L88.8 83.2 L89.4 83.0 L90.0 82.8 L90.5 82.7 L91.2 82.5 L91.8 82.4 L92.5 82.3 L93.0 82.2 L93.8 82.1 L94.4 82.0 L95.0 81.9 L95.8 81.9 L96.5 81.8 L97.2 81.8 L98.0 81.8 L98.8 81.8 L99.5 81.8 L100.2 81.8 L101.0 81.8 L101.8 81.9 L102.5 81.9 L103.2 81.9 L104.0 82.0 L104.5 82.0 L105.2 82.1 L106.0 82.1 L106.8 82.2 L107.5 82.2 L108.0 82.3 L108.8 82.4 L109.5 82.5 L110.0 82.5 L110.8 82.6 L111.5 82.7 L112.0 82.8 L112.8 82.9 L113.4 83.0 L114.0 83.1 L114.8 83.2 L115.2 83.3 L116.0 83.5 L116.5 83.6 L117.2 83.7 L117.8 83.8 L118.5 84.0 L119.0 84.1 L119.6 84.2 L120.2 84.4 L120.8 84.6 L121.5 84.8 L122.0 84.9 L122.5 85.0 L123.2 85.2 L123.8 85.4 L124.2 85.6 L124.8 85.8 L125.4 86.0 L126.0 86.2 L126.5 86.4 L127.0 86.6 L127.5 86.8 L128.0 87.0 L128.5 87.2 L129.1 87.5 L129.6 87.8 L130.1 88.0 L130.6 88.2 L131.0 88.5 L131.5 88.8 L132.0 89.1 L132.5 89.4 L133.0 89.7 L133.5 90.0 L133.8 90.2 L134.2 90.6 L134.8 91.0 L135.1 91.2 L135.5 91.6 L135.9 92.0 L136.2 92.4 L136.6 92.8 L137.0 93.2 L137.2 93.6 L137.5 94.0 L137.9 94.5 L138.1 95.0 L138.4 95.5 L138.6 96.0 L138.8 96.5 L139.0 97.2 L139.1 97.8 L139.2 98.5 L139.3 99.0 L139.5 99.8 L139.5 100.2 L139.7 101.0 L139.8 101.5 L139.9 102.2 L139.9 103.0 L139.9 103.8 L139.8 104.5 L139.8 105.0 L139.6 105.8 L139.4 106.2 L139.2 106.8 L139.0 107.2 L138.7 107.8 L138.4 108.2 L138.1 108.8 L137.8 109.2 L137.5 109.6 L137.2 110.0 L136.8 110.5 L136.5 110.8 L136.1 111.2 L135.8 111.6 L135.3 112.0 L135.0 112.3 L134.5 112.7 L134.2 113.0 L133.8 113.4 L133.3 113.8 L133.0 114.0 L132.5 114.4 L132.1 114.8 L131.8 115.0 L131.2 115.5 L130.9 115.8 L130.5 116.2 L130.2 116.5 L129.8 116.9 L129.5 117.2 L129.0 117.8 L128.8 118.1 L128.5 118.5 L128.1 119.0 L127.8 119.5 L127.5 120.0 L127.3 120.5 L127.0 121.0 L126.8 121.5 L126.6 122.0 L126.5 122.5 L126.2 123.1 L126.0 123.8 L125.9 124.2 L125.7 124.8 L125.5 125.4 L125.3 126.0 L125.1 126.5 L124.9 127.0 L124.7 127.5 L124.5 128.1 L124.3 128.8 L124.1 129.2 L124.0 129.9 L123.9 130.5 L123.9 131.2 L123.9 132.0 L124.0 132.8 L123.9 133.5 L123.9 134.2 L123.8 135.0 L123.6 135.5 L123.4 136.0 L123.1 136.5 L122.8 137.0 L122.5 137.3 L122.0 137.7 L121.6 138.0 L121.1 138.2 L120.5 138.5 L120.0 138.6 L119.2 138.7"/>
<path d="M101.2 131.3 L100.5 131.3 L99.8 131.4 L99.0 131.4 L98.2 131.4 L97.5 131.4 L96.8 131.4 L96.0 131.3 L95.2 131.3 L94.8 131.2 L94.0 131.1 L93.5 131.0 L92.8 130.8 L92.2 130.7 L91.7 130.5 L91.0 130.3 L90.5 130.1 L90.0 129.9 L89.5 129.7 L89.0 129.5 L88.5 129.2 L88.0 129.0 L87.4 128.8 L86.8 128.5 L86.2 128.3 L85.8 128.1 L85.2 127.9 L84.5 127.8 L83.8 127.9 L83.2 128.0 L82.6 128.2 L82.2 128.5 L81.7 128.8 L81.2 129.0 L80.7 129.2 L80.0 129.5 L79.5 129.6 L78.8 129.6 L78.0 129.5 L77.5 129.4 L76.9 129.2 L76.4 129.0 L76.0 128.8 L75.5 128.4 L75.0 128.0 L74.7 127.8 L74.2 127.3 L74.0 127.0 L73.6 126.5 L73.4 126.0 L73.1 125.5 L73.0 125.0 L72.8 124.2 L72.7 123.8 L72.7 123.0 L72.7 122.2 L72.7 121.5 L72.8 121.0 L72.9 120.2 L73.0 119.8 L73.2 119.0 L73.3 118.5 L73.4 117.8 L73.4 117.0 L73.4 116.2 L73.4 115.5 L73.4 114.8 L73.3 114.0 L73.2 113.5 L73.1 112.8 L73.0 112.0 L73.0 111.5 L72.9 110.8 L72.8 110.0 L72.7 109.5 L72.6 108.8 L72.6 108.0 L72.5 107.2 L72.5 106.8 L72.4 106.0 L72.4 105.2 L72.4 104.5 L72.3 103.8 L72.3 103.0 L72.3 102.2 L72.3 101.5 L72.3 100.8 L72.4 100.0 L72.4 99.2 L72.5 98.7 L72.6 98.0 L72.8 97.4 L72.9 96.8 L73.1 96.2 L73.3 95.8 L73.5 95.2 L73.8 94.8 L74.0 94.2 L74.3 93.8 L74.7 93.2 L75.0 92.8 L75.2 92.5 L75.6 92.0 L76.0 91.6 L76.3 91.2 L76.8 90.8 L77.1 90.5 L77.5 90.1 L78.0 89.8 L78.3 89.5 L78.8 89.1 L79.2 88.8 L79.6 88.5 L80.0 88.2 L80.5 87.9 L81.0 87.5 L81.5 87.2 L81.9 87.0 L82.3 86.8 L82.8 86.5 L83.2 86.2 L83.8 85.9 L84.2 85.7 L84.8 85.4 L85.2 85.2 L85.8 85.0 L86.2 84.7 L86.8 84.5 L87.5 84.2 L88.0 84.1 L88.5 83.9 L89.0 83.7 L89.7 83.5 L90.2 83.4 L90.8 83.2 L91.5 83.0 L92.0 82.9 L92.8 82.8 L93.2 82.7 L94.0 82.6 L94.8 82.5 L95.2 82.5 L96.0 82.4 L96.8 82.4 L97.5 82.3 L98.2 82.3 L99.0 82.3 L99.8 82.4 L100.5 82.4 L101.2 82.4 L102.0 82.4 L102.8 82.5 L103.5 82.5 L104.0 82.5 L104.8 82.6 L105.5 82.6 L106.2 82.7 L106.9 82.8 L107.5 82.8 L108.2 82.9 L109.0 83.0 L109.5 83.0 L110.2 83.1 L111.0 83.2 L111.5 83.3 L112.2 83.4 L112.9 83.5 L113.5 83.6 L114.2 83.7 L114.8 83.8 L115.5 84.0 L116.0 84.1 L116.8 84.2 L117.2 84.3 L118.0 84.5 L118.5 84.6 L119.0 84.8 L119.8 84.9 L120.2 85.1 L120.9 85.2 L121.5 85.4 L122.0 85.6 L122.5 85.8 L123.2 86.0 L123.8 86.1 L124.2 86.3 L124.8 86.5 L125.4 86.8 L126.0 87.0 L126.5 87.2 L127.0 87.4 L127.5 87.6 L128.0 87.8 L128.5 88.1 L129.0 88.3 L129.5 88.6 L130.0 88.9 L130.5 89.1 L131.0 89.4 L131.5 89.8 L131.9 90.0 L132.2 90.3 L132.8 90.6 L133.2 91.0 L133.6 91.2 L134.0 91.6 L134.4 92.0 L134.8 92.3 L135.1 92.8 L135.5 93.2 L135.8 93.5 L136.1 94.0 L136.4 94.5 L136.7 95.0 L137.0 95.5 L137.2 96.0 L137.4 96.5 L137.5 97.0 L137.7 97.8 L137.8 98.2 L137.9 99.0 L138.0 99.8 L138.1 100.2 L138.2 101.0 L138.3 101.5 L138.3 102.2 L138.4 103.0 L138.4 103.8 L138.3 104.5 L138.2 105.1 L138.1 105.8 L137.9 106.2 L137.7 106.8 L137.5 107.2 L137.2 107.8 L136.9 108.2 L136.6 108.8 L136.2 109.2 L136.0 109.5 L135.6 110.0 L135.2 110.4 L134.9 110.8 L134.5 111.1 L134.1 111.5 L133.8 111.8 L133.3 112.2 L133.0 112.5 L132.5 112.9 L132.1 113.2 L131.8 113.5 L131.2 114.0 L130.9 114.2 L130.5 114.6 L130.0 115.0 L129.8 115.3 L129.2 115.7 L129.0 116.0 L128.5 116.5 L128.2 116.8 L127.8 117.2 L127.5 117.6 L127.1 118.0 L126.8 118.5 L126.5 118.8 L126.2 119.2 L125.9 119.8 L125.6 120.2 L125.3 120.8 L125.0 121.2 L124.8 121.7 L124.5 122.2 L124.2 122.7 L124.0 123.1 L123.8 123.5 L123.5 124.0 L123.1 124.5 L122.8 125.0 L122.5 125.4 L122.2 125.8 L121.8 126.2 L121.5 126.5 L121.0 127.0 L120.7 127.2 L120.2 127.7 L119.9 128.0 L119.5 128.3 L119.0 128.6 L118.5 128.8 L118.0 128.8 L117.2 128.5 L116.8 128.3 L116.2 128.1 L115.8 127.9 L115.2 127.7 L114.5 127.5 L114.0 127.4 L113.2 127.3 L112.5 127.3 L111.8 127.3 L111.0 127.4 L110.5 127.5 L109.8 127.8 L109.2 127.9 L108.8 128.2 L108.2 128.4 L107.8 128.7 L107.2 129.0 L106.8 129.2 L106.4 129.5 L105.9 129.8 L105.5 130.0 L105.0 130.2 L104.4 130.5 L103.8 130.7 L103.2 130.9 L102.8 131.0 L102.0 131.2 L101.4 131.2"/>
<path d="M119.5 135.5 L118.8 135.7 L118.0 135.6 L117.5 135.4 L117.0 135.0 L116.7 134.8 L116.4 134.2 L116.2 133.8 L116.2 133.0 L116.2 132.4 L116.5 131.8 L116.8 131.4 L117.0 131.0 L117.5 130.5 L118.0 130.2 L118.5 130.2 L119.0 130.4 L119.4 130.8 L119.8 131.2 L120.0 131.6 L120.2 132.0 L120.5 132.7 L120.6 133.2 L120.6 134.0 L120.5 134.5 L120.2 135.0 L119.8 135.4"/>
<path d="M97.8 129.8 L97.0 129.8 L96.2 129.8 L95.5 129.8 L95.0 129.7 L94.2 129.6 L93.6 129.5 L93.0 129.4 L92.5 129.2 L91.8 129.0 L91.2 128.8 L90.8 128.6 L90.2 128.3 L89.8 128.0 L89.3 127.8 L88.9 127.5 L88.5 127.2 L88.0 126.8 L87.5 126.5 L87.2 126.2 L86.8 125.9 L86.3 125.5 L86.0 125.2 L85.5 124.9 L85.0 124.5 L84.6 124.2 L84.2 124.0 L83.8 123.7 L83.2 123.4 L82.8 123.2 L82.1 123.0 L81.5 122.9 L80.8 123.0 L80.2 123.2 L79.8 123.5 L79.5 123.8 L79.0 124.2 L78.7 124.5 L78.2 124.8 L77.8 125.1 L77.0 125.2 L76.4 125.0 L76.0 124.7 L75.7 124.2 L75.5 123.8 L75.3 123.0 L75.3 122.2 L75.4 121.5 L75.5 120.8 L75.6 120.2 L75.6 119.5 L75.7 118.8 L75.6 118.0 L75.5 117.4 L75.4 116.8 L75.2 116.2 L75.1 115.5 L74.9 115.0 L74.8 114.4 L74.6 113.8 L74.4 113.2 L74.2 112.6 L74.1 112.0 L74.0 111.5 L73.8 110.8 L73.7 110.2 L73.6 109.5 L73.5 109.0 L73.4 108.2 L73.3 107.5 L73.2 107.0 L73.1 106.2 L73.1 105.5 L73.0 104.8 L73.0 104.2 L73.0 103.5 L72.9 102.8 L72.9 102.0 L72.9 101.2 L73.0 100.5 L73.0 99.8 L73.0 99.2 L73.1 98.5 L73.2 97.8 L73.4 97.2 L73.5 96.8 L73.8 96.2 L74.0 95.6 L74.2 95.0 L74.5 94.6 L74.8 94.2 L75.0 93.8 L75.4 93.2 L75.8 92.8 L76.0 92.5 L76.4 92.0 L76.8 91.6 L77.1 91.2 L77.5 90.9 L78.0 90.5 L78.3 90.2 L78.8 89.9 L79.2 89.5 L79.6 89.2 L80.0 88.9 L80.5 88.6 L81.0 88.3 L81.4 88.0 L81.8 87.8 L82.2 87.5 L82.8 87.2 L83.2 86.9 L83.8 86.6 L84.2 86.4 L84.8 86.1 L85.2 85.9 L85.8 85.6 L86.2 85.4 L86.8 85.2 L87.2 85.0 L87.8 84.8 L88.5 84.5 L89.0 84.3 L89.5 84.2 L90.1 84.0 L90.8 83.8 L91.2 83.7 L92.0 83.5 L92.5 83.4 L93.2 83.3 L93.8 83.2 L94.5 83.1 L95.2 83.0 L95.8 83.0 L96.5 82.9 L97.2 82.9 L98.0 82.9 L98.8 82.9 L99.5 82.9 L100.2 82.9 L101.0 83.0 L101.8 83.0 L102.2 83.0 L103.0 83.0 L103.8 83.1 L104.5 83.1 L105.2 83.2 L106.0 83.2 L106.5 83.3 L107.2 83.4 L108.0 83.4 L108.5 83.5 L109.2 83.6 L110.0 83.7 L110.5 83.8 L111.2 83.9 L112.0 84.0 L112.5 84.1 L113.2 84.2 L113.8 84.3 L114.5 84.4 L115.0 84.5 L115.8 84.7 L116.2 84.8 L117.0 84.9 L117.5 85.0 L118.2 85.2 L118.8 85.4 L119.3 85.5 L120.0 85.7 L120.5 85.8 L121.0 86.0 L121.8 86.2 L122.2 86.4 L122.8 86.6 L123.3 86.8 L124.0 87.0 L124.5 87.2 L125.0 87.4 L125.5 87.6 L126.0 87.8 L126.5 88.0 L127.0 88.3 L127.5 88.5 L128.0 88.8 L128.5 89.0 L129.0 89.3 L129.5 89.6 L130.0 89.9 L130.5 90.2 L131.0 90.5 L131.3 90.8 L131.8 91.1 L132.2 91.5 L132.6 91.8 L133.0 92.1 L133.4 92.5 L133.8 92.9 L134.1 93.2 L134.5 93.8 L134.8 94.2 L135.0 94.5 L135.3 95.0 L135.5 95.5 L135.8 96.1 L136.0 96.8 L136.1 97.2 L136.2 98.0 L136.3 98.5 L136.4 99.2 L136.5 99.9 L136.6 100.5 L136.7 101.2 L136.8 101.9 L136.8 102.5 L136.8 103.2 L136.8 104.0 L136.8 104.8 L136.7 105.2 L136.5 105.9 L136.3 106.5 L136.0 107.0 L135.8 107.5 L135.5 107.9 L135.2 108.3 L134.9 108.8 L134.5 109.2 L134.2 109.6 L133.9 110.0 L133.5 110.4 L133.1 110.8 L132.8 111.1 L132.3 111.5 L132.0 111.8 L131.5 112.2 L131.2 112.5 L130.8 112.9 L130.3 113.2 L130.0 113.5 L129.5 114.0 L129.2 114.2 L128.8 114.6 L128.3 115.0 L128.0 115.3 L127.5 115.7 L127.2 116.0 L126.8 116.5 L126.5 116.8 L126.0 117.2 L125.8 117.5 L125.3 118.0 L125.0 118.4 L124.7 118.8 L124.2 119.2 L124.0 119.5 L123.6 120.0 L123.2 120.4 L123.0 120.8 L122.5 121.2 L122.2 121.6 L121.8 122.0 L121.5 122.3 L121.0 122.7 L120.5 123.0 L120.1 123.2 L119.6 123.5 L119.0 123.7 L118.5 123.9 L117.8 124.0 L117.2 124.1 L116.5 124.2 L115.8 124.2 L115.0 124.2 L114.5 124.3 L113.8 124.3 L113.0 124.3 L112.2 124.4 L111.5 124.5 L111.0 124.6 L110.2 124.7 L109.8 124.8 L109.2 125.0 L108.5 125.2 L108.0 125.4 L107.5 125.7 L107.0 125.9 L106.5 126.2 L106.0 126.5 L105.5 126.8 L105.1 127.0 L104.7 127.2 L104.2 127.6 L103.8 127.9 L103.2 128.2 L102.8 128.4 L102.2 128.7 L101.8 128.9 L101.2 129.0 L100.6 129.2 L100.0 129.4 L99.5 129.5 L98.8 129.6 L98.0 129.7"/>
<path d="M97.8 128.3 L97.0 128.4 L96.2 128.4 L95.5 128.4 L94.8 128.4 L94.1 128.2 L93.5 128.1 L93.0 128.0 L92.3 127.8 L91.8 127.5 L91.2 127.3 L90.8 127.0 L90.4 126.8 L90.0 126.5 L89.5 126.1 L89.0 125.8 L88.7 125.5 L88.2 125.1 L87.9 124.8 L87.5 124.4 L87.1 124.0 L86.8 123.6 L86.4 123.2 L86.0 122.9 L85.6 122.5 L85.2 122.1 L84.9 121.8 L84.5 121.4 L84.1 121.0 L83.8 120.7 L83.2 120.3 L82.9 120.0 L82.5 119.7 L82.0 119.3 L81.5 119.0 L81.1 118.8 L80.7 118.5 L80.2 118.2 L79.8 117.9 L79.2 117.5 L78.9 117.2 L78.5 116.9 L78.1 116.5 L77.8 116.2 L77.4 115.8 L77.0 115.2 L76.8 114.9 L76.5 114.5 L76.2 114.0 L75.9 113.5 L75.7 113.0 L75.5 112.5 L75.2 112.0 L75.0 111.3 L74.8 110.8 L74.7 110.2 L74.5 109.7 L74.3 109.0 L74.2 108.5 L74.1 107.8 L74.0 107.2 L73.9 106.5 L73.8 105.8 L73.7 105.2 L73.7 104.5 L73.6 103.8 L73.6 103.0 L73.6 102.2 L73.6 101.5 L73.6 100.8 L73.6 100.0 L73.6 99.2 L73.7 98.5 L73.8 98.0 L74.0 97.3 L74.2 96.8 L74.4 96.2 L74.6 95.8 L74.8 95.2 L75.1 94.8 L75.4 94.2 L75.7 93.8 L76.0 93.4 L76.3 93.0 L76.8 92.5 L77.0 92.2 L77.5 91.8 L77.8 91.5 L78.2 91.0 L78.6 90.8 L79.0 90.4 L79.5 90.0 L79.9 89.8 L80.2 89.5 L80.8 89.2 L81.2 88.8 L81.8 88.5 L82.2 88.2 L82.6 88.0 L83.0 87.8 L83.5 87.5 L84.0 87.2 L84.5 86.9 L85.0 86.7 L85.5 86.4 L86.0 86.2 L86.5 86.0 L87.0 85.7 L87.6 85.5 L88.2 85.3 L88.8 85.1 L89.2 84.9 L89.8 84.7 L90.5 84.5 L91.0 84.4 L91.5 84.2 L92.2 84.1 L92.8 84.0 L93.5 83.9 L94.2 83.8 L94.8 83.7 L95.5 83.6 L96.2 83.5 L97.0 83.5 L97.5 83.5 L98.2 83.5 L98.9 83.5 L99.5 83.5 L100.2 83.5 L101.0 83.5 L101.8 83.6 L102.5 83.6 L103.2 83.6 L104.0 83.7 L104.8 83.7 L105.2 83.8 L106.0 83.8 L106.8 83.9 L107.5 84.0 L108.0 84.1 L108.8 84.1 L109.5 84.2 L110.0 84.3 L110.8 84.4 L111.3 84.5 L112.0 84.6 L112.8 84.7 L113.2 84.8 L114.0 85.0 L114.5 85.1 L115.2 85.2 L115.8 85.3 L116.5 85.5 L117.0 85.6 L117.5 85.8 L118.2 85.9 L118.8 86.1 L119.4 86.2 L120.0 86.4 L120.5 86.6 L121.0 86.8 L121.8 87.0 L122.2 87.2 L122.8 87.3 L123.2 87.5 L123.8 87.8 L124.4 88.0 L125.0 88.2 L125.5 88.5 L126.0 88.7 L126.5 88.9 L127.0 89.2 L127.5 89.5 L128.0 89.7 L128.4 90.0 L128.8 90.2 L129.2 90.5 L129.8 90.8 L130.2 91.2 L130.6 91.5 L131.0 91.8 L131.5 92.2 L131.8 92.5 L132.2 93.0 L132.5 93.3 L132.9 93.8 L133.2 94.2 L133.5 94.6 L133.8 95.0 L134.0 95.5 L134.2 96.1 L134.5 96.8 L134.6 97.2 L134.7 98.0 L134.8 98.5 L134.9 99.2 L134.9 100.0 L135.0 100.6 L135.1 101.2 L135.1 102.0 L135.2 102.8 L135.2 103.5 L135.2 104.2 L135.1 105.0 L135.0 105.5 L134.8 106.2 L134.5 106.8 L134.2 107.2 L134.0 107.7 L133.8 108.0 L133.4 108.5 L133.0 109.0 L132.8 109.3 L132.4 109.8 L132.0 110.1 L131.6 110.5 L131.2 110.9 L130.8 111.2 L130.5 111.6 L130.0 112.0 L129.7 112.2 L129.2 112.6 L128.8 113.0 L128.5 113.3 L128.0 113.7 L127.7 114.0 L127.2 114.4 L126.8 114.8 L126.5 115.0 L126.0 115.5 L125.7 115.8 L125.2 116.1 L124.9 116.5 L124.5 116.8 L124.0 117.2 L123.8 117.5 L123.2 118.0 L123.0 118.2 L122.5 118.7 L122.1 119.0 L121.8 119.3 L121.2 119.7 L120.8 120.0 L120.4 120.2 L120.0 120.5 L119.5 120.8 L119.0 121.0 L118.4 121.2 L117.8 121.5 L117.2 121.6 L116.6 121.8 L116.0 121.9 L115.2 122.0 L114.8 122.1 L114.0 122.2 L113.4 122.2 L112.8 122.3 L112.0 122.5 L111.5 122.5 L110.8 122.7 L110.2 122.8 L109.5 123.0 L109.0 123.1 L108.5 123.3 L107.9 123.5 L107.3 123.8 L106.8 124.0 L106.2 124.2 L105.8 124.5 L105.2 124.7 L104.8 125.0 L104.3 125.2 L103.9 125.5 L103.5 125.8 L103.0 126.1 L102.5 126.4 L102.0 126.6 L101.5 126.9 L101.0 127.2 L100.5 127.4 L100.0 127.6 L99.5 127.8 L99.0 128.0 L98.2 128.2 L97.8 128.3"/>
<path d="M96.2 127.0 L95.5 127.0 L95.0 127.0 L94.2 126.9 L93.6 126.8 L93.0 126.6 L92.5 126.4 L92.0 126.1 L91.5 125.9 L91.0 125.6 L90.5 125.2 L90.2 125.0 L89.8 124.7 L89.3 124.2 L89.0 124.0 L88.5 123.5 L88.2 123.2 L87.8 122.8 L87.5 122.4 L87.1 122.0 L86.8 121.6 L86.5 121.2 L86.0 120.8 L85.8 120.4 L85.4 120.0 L85.0 119.6 L84.7 119.2 L84.2 118.9 L83.9 118.5 L83.5 118.2 L83.0 117.8 L82.6 117.5 L82.2 117.2 L81.8 116.9 L81.2 116.6 L80.8 116.2 L80.4 116.0 L80.0 115.7 L79.5 115.3 L79.1 115.0 L78.8 114.7 L78.3 114.2 L78.0 113.9 L77.6 113.5 L77.2 113.0 L77.0 112.7 L76.7 112.2 L76.4 111.8 L76.1 111.2 L75.9 110.8 L75.7 110.2 L75.5 109.8 L75.2 109.0 L75.1 108.5 L75.0 108.0 L74.8 107.2 L74.7 106.8 L74.6 106.0 L74.5 105.5 L74.4 104.8 L74.3 104.0 L74.3 103.2 L74.2 102.7 L74.2 102.0 L74.2 101.2 L74.2 100.5 L74.2 99.8 L74.3 99.2 L74.4 98.5 L74.5 97.9 L74.7 97.2 L74.8 96.8 L75.0 96.2 L75.3 95.8 L75.5 95.2 L75.8 94.8 L76.1 94.2 L76.5 93.8 L76.8 93.4 L77.1 93.0 L77.5 92.6 L77.8 92.2 L78.2 91.9 L78.7 91.5 L79.0 91.2 L79.5 90.8 L79.9 90.5 L80.3 90.2 L80.8 89.9 L81.2 89.6 L81.8 89.3 L82.2 89.0 L82.6 88.8 L83.0 88.5 L83.5 88.2 L84.0 87.9 L84.5 87.7 L85.0 87.4 L85.5 87.2 L86.0 86.9 L86.5 86.7 L87.0 86.4 L87.5 86.2 L88.1 86.0 L88.7 85.8 L89.2 85.6 L89.8 85.4 L90.2 85.2 L91.0 85.0 L91.5 84.9 L92.1 84.8 L92.8 84.6 L93.4 84.5 L94.0 84.4 L94.8 84.3 L95.2 84.2 L96.0 84.2 L96.8 84.1 L97.5 84.1 L98.2 84.1 L99.0 84.1 L99.8 84.1 L100.5 84.1 L101.2 84.2 L102.0 84.2 L102.8 84.2 L103.2 84.3 L104.0 84.3 L104.8 84.4 L105.5 84.4 L106.2 84.5 L106.8 84.6 L107.5 84.6 L108.2 84.7 L108.8 84.8 L109.5 84.9 L110.2 85.0 L110.8 85.1 L111.5 85.2 L112.0 85.3 L112.8 85.4 L113.2 85.5 L114.0 85.6 L114.5 85.8 L115.2 85.9 L115.8 86.0 L116.5 86.2 L117.0 86.3 L117.6 86.5 L118.2 86.7 L118.8 86.8 L119.3 87.0 L120.0 87.2 L120.5 87.4 L121.0 87.5 L121.6 87.8 L122.2 88.0 L122.8 88.2 L123.2 88.4 L123.8 88.6 L124.2 88.8 L124.8 89.1 L125.2 89.3 L125.8 89.6 L126.2 89.8 L126.8 90.1 L127.2 90.4 L127.8 90.7 L128.2 91.0 L128.5 91.2 L129.0 91.6 L129.5 92.0 L129.8 92.2 L130.2 92.6 L130.6 93.0 L131.0 93.4 L131.3 93.8 L131.7 94.2 L132.0 94.7 L132.2 95.2 L132.5 95.7 L132.7 96.2 L132.9 96.8 L133.0 97.2 L133.1 98.0 L133.2 98.8 L133.3 99.2 L133.3 100.0 L133.4 100.8 L133.4 101.5 L133.5 102.2 L133.5 102.8 L133.5 103.5 L133.5 104.0 L133.4 104.8 L133.3 105.5 L133.2 106.0 L133.0 106.5 L132.7 107.0 L132.4 107.5 L132.0 108.0 L131.8 108.4 L131.5 108.8 L131.0 109.2 L130.8 109.6 L130.3 110.0 L130.0 110.3 L129.6 110.8 L129.2 111.0 L128.8 111.5 L128.5 111.8 L128.0 112.1 L127.6 112.5 L127.2 112.8 L126.8 113.2 L126.4 113.5 L126.0 113.8 L125.5 114.2 L125.2 114.5 L124.8 114.9 L124.3 115.2 L124.0 115.5 L123.5 115.9 L123.1 116.2 L122.7 116.5 L122.2 116.9 L121.8 117.2 L121.4 117.5 L121.0 117.8 L120.5 118.1 L120.0 118.4 L119.5 118.7 L119.0 118.9 L118.5 119.1 L118.0 119.3 L117.5 119.5 L116.8 119.8 L116.2 119.9 L115.8 120.1 L115.0 120.2 L114.5 120.3 L113.8 120.5 L113.2 120.6 L112.5 120.7 L112.0 120.8 L111.3 121.0 L110.8 121.1 L110.2 121.2 L109.5 121.4 L109.0 121.6 L108.5 121.8 L107.8 122.0 L107.2 122.2 L106.8 122.4 L106.2 122.6 L105.8 122.8 L105.2 123.1 L104.8 123.3 L104.2 123.6 L103.8 123.9 L103.2 124.2 L102.8 124.5 L102.2 124.7 L101.8 125.0 L101.4 125.2 L100.9 125.5 L100.4 125.8 L99.9 126.0 L99.3 126.2 L98.8 126.5 L98.2 126.6 L97.8 126.8 L97.0 126.9 L96.4 127.0"/>
<path d="M97.0 125.5 L96.2 125.6 L95.5 125.7 L94.8 125.6 L94.1 125.5 L93.5 125.3 L93.0 125.2 L92.5 125.0 L92.0 124.7 L91.5 124.4 L91.0 124.1 L90.6 123.8 L90.2 123.5 L89.8 123.0 L89.5 122.8 L89.0 122.3 L88.7 122.0 L88.3 121.5 L88.0 121.1 L87.7 120.8 L87.3 120.2 L87.0 119.9 L86.7 119.5 L86.3 119.0 L86.0 118.7 L85.6 118.2 L85.2 117.9 L84.9 117.5 L84.5 117.2 L84.0 116.8 L83.7 116.5 L83.2 116.2 L82.8 115.8 L82.3 115.5 L81.9 115.2 L81.5 115.0 L81.0 114.6 L80.5 114.3 L80.2 114.0 L79.8 113.7 L79.2 113.3 L79.0 113.0 L78.5 112.5 L78.2 112.2 L77.8 111.8 L77.5 111.3 L77.2 111.0 L77.0 110.5 L76.7 110.0 L76.4 109.5 L76.2 109.0 L76.0 108.4 L75.8 107.8 L75.6 107.2 L75.5 106.8 L75.3 106.0 L75.2 105.5 L75.1 104.8 L75.1 104.0 L75.0 103.4 L74.9 102.8 L74.9 102.0 L74.9 101.2 L74.9 100.5 L74.9 99.8 L75.0 99.0 L75.1 98.5 L75.2 97.8 L75.4 97.2 L75.5 96.8 L75.8 96.2 L76.0 95.7 L76.3 95.2 L76.6 94.8 L76.9 94.2 L77.2 93.8 L77.5 93.5 L78.0 93.0 L78.3 92.8 L78.8 92.3 L79.1 92.0 L79.5 91.6 L80.0 91.3 L80.3 91.0 L80.8 90.7 L81.2 90.4 L81.8 90.0 L82.2 89.8 L82.6 89.5 L83.0 89.2 L83.5 89.0 L84.0 88.7 L84.5 88.4 L85.0 88.2 L85.5 87.9 L86.0 87.7 L86.5 87.4 L87.0 87.2 L87.5 87.0 L88.0 86.8 L88.6 86.5 L89.2 86.3 L89.8 86.1 L90.2 85.9 L90.9 85.8 L91.5 85.6 L92.0 85.5 L92.8 85.3 L93.2 85.2 L94.0 85.1 L94.5 85.0 L95.2 84.9 L96.0 84.8 L96.8 84.8 L97.5 84.8 L98.0 84.7 L98.5 84.8 L99.2 84.8 L100.0 84.8 L100.8 84.8 L101.5 84.8 L102.2 84.9 L103.0 84.9 L103.8 84.9 L104.4 85.0 L105.0 85.0 L105.8 85.1 L106.5 85.2 L107.1 85.2 L107.8 85.3 L108.5 85.4 L109.0 85.5 L109.8 85.6 L110.5 85.7 L111.0 85.8 L111.8 85.9 L112.2 86.0 L113.0 86.2 L113.5 86.3 L114.2 86.4 L114.8 86.5 L115.5 86.7 L116.0 86.8 L116.6 87.0 L117.2 87.2 L117.8 87.3 L118.3 87.5 L119.0 87.7 L119.5 87.9 L120.0 88.0 L120.6 88.2 L121.2 88.5 L121.8 88.7 L122.2 88.9 L122.8 89.1 L123.2 89.3 L123.8 89.6 L124.2 89.8 L124.8 90.1 L125.2 90.4 L125.8 90.7 L126.2 91.0 L126.7 91.2 L127.0 91.5 L127.5 91.8 L128.0 92.2 L128.3 92.5 L128.8 92.9 L129.1 93.2 L129.5 93.7 L129.8 94.0 L130.2 94.5 L130.5 95.0 L130.8 95.5 L131.0 96.0 L131.2 96.5 L131.3 97.0 L131.5 97.8 L131.5 98.2 L131.6 99.0 L131.6 99.8 L131.7 100.5 L131.7 101.2 L131.7 102.0 L131.7 102.8 L131.7 103.5 L131.7 104.2 L131.6 105.0 L131.5 105.7 L131.3 106.2 L131.0 106.8 L130.8 107.2 L130.5 107.6 L130.2 108.0 L129.8 108.5 L129.5 108.9 L129.2 109.2 L128.8 109.7 L128.5 110.0 L128.0 110.4 L127.7 110.8 L127.2 111.1 L126.8 111.5 L126.5 111.8 L126.0 112.2 L125.7 112.5 L125.2 112.9 L124.8 113.2 L124.4 113.5 L124.0 113.9 L123.5 114.2 L123.2 114.5 L122.8 114.8 L122.2 115.2 L121.8 115.5 L121.4 115.8 L121.0 116.0 L120.5 116.3 L120.0 116.6 L119.5 116.9 L119.0 117.1 L118.5 117.4 L118.0 117.6 L117.5 117.8 L117.0 118.0 L116.3 118.2 L115.8 118.4 L115.2 118.6 L114.6 118.8 L114.0 118.9 L113.5 119.0 L112.8 119.2 L112.2 119.3 L111.6 119.5 L111.0 119.6 L110.5 119.8 L109.8 120.0 L109.2 120.1 L108.8 120.3 L108.1 120.5 L107.5 120.7 L107.0 120.9 L106.5 121.1 L106.0 121.3 L105.5 121.5 L105.0 121.8 L104.5 122.0 L104.0 122.3 L103.5 122.6 L103.0 122.8 L102.5 123.1 L102.0 123.4 L101.5 123.7 L101.0 123.9 L100.5 124.2 L100.0 124.4 L99.5 124.7 L99.0 124.9 L98.5 125.1 L98.0 125.3 L97.2 125.5"/>
<path d="M96.5 124.3 L95.8 124.3 L95.0 124.3 L94.5 124.2 L93.8 124.0 L93.2 123.9 L92.8 123.7 L92.2 123.4 L91.8 123.1 L91.3 122.8 L91.0 122.5 L90.5 122.1 L90.1 121.8 L89.8 121.3 L89.4 121.0 L89.0 120.5 L88.8 120.2 L88.4 119.8 L88.0 119.2 L87.8 118.9 L87.4 118.5 L87.0 118.0 L86.8 117.7 L86.4 117.2 L86.0 116.8 L85.7 116.5 L85.2 116.1 L84.9 115.8 L84.5 115.5 L84.0 115.1 L83.5 114.8 L83.2 114.5 L82.8 114.2 L82.2 113.9 L81.8 113.6 L81.3 113.2 L80.9 113.0 L80.5 112.7 L80.0 112.3 L79.7 112.0 L79.2 111.6 L78.9 111.2 L78.5 110.8 L78.2 110.5 L77.9 110.0 L77.6 109.5 L77.3 109.0 L77.0 108.5 L76.8 108.0 L76.6 107.5 L76.4 107.0 L76.2 106.4 L76.1 105.8 L76.0 105.2 L75.9 104.5 L75.8 103.8 L75.7 103.2 L75.7 102.5 L75.6 101.8 L75.6 101.0 L75.6 100.2 L75.6 99.5 L75.7 98.8 L75.8 98.2 L76.0 97.5 L76.2 97.0 L76.4 96.5 L76.6 96.0 L76.9 95.5 L77.2 95.0 L77.5 94.6 L77.8 94.2 L78.2 93.8 L78.5 93.5 L79.0 93.0 L79.2 92.7 L79.8 92.3 L80.1 92.0 L80.5 91.7 L81.0 91.4 L81.5 91.0 L81.9 90.8 L82.3 90.5 L82.8 90.2 L83.2 89.9 L83.8 89.7 L84.2 89.4 L84.8 89.1 L85.2 88.8 L85.8 88.6 L86.2 88.3 L86.8 88.1 L87.2 87.8 L87.8 87.6 L88.2 87.4 L88.8 87.2 L89.3 87.0 L90.0 86.8 L90.5 86.6 L91.0 86.4 L91.7 86.2 L92.2 86.1 L92.8 86.0 L93.5 85.8 L94.0 85.7 L94.8 85.6 L95.5 85.5 L96.0 85.5 L96.8 85.5 L97.5 85.4 L98.2 85.4 L99.0 85.4 L99.8 85.4 L100.5 85.5 L101.2 85.5 L101.8 85.5 L102.5 85.6 L103.2 85.6 L104.0 85.7 L104.8 85.7 L105.2 85.8 L106.0 85.8 L106.8 85.9 L107.5 86.0 L108.0 86.1 L108.8 86.2 L109.3 86.2 L110.0 86.4 L110.8 86.5 L111.2 86.6 L112.0 86.7 L112.5 86.8 L113.2 87.0 L113.8 87.1 L114.4 87.2 L115.0 87.4 L115.5 87.5 L116.2 87.7 L116.8 87.9 L117.2 88.0 L118.0 88.2 L118.5 88.4 L119.0 88.6 L119.5 88.8 L120.1 89.0 L120.7 89.2 L121.2 89.5 L121.8 89.7 L122.2 89.9 L122.8 90.2 L123.2 90.4 L123.8 90.7 L124.2 91.0 L124.7 91.2 L125.1 91.5 L125.5 91.8 L126.0 92.1 L126.5 92.5 L126.8 92.8 L127.2 93.2 L127.5 93.5 L128.0 94.0 L128.2 94.3 L128.6 94.8 L128.9 95.2 L129.2 95.8 L129.4 96.2 L129.5 96.8 L129.7 97.5 L129.8 98.0 L129.8 98.8 L129.8 99.5 L129.9 100.2 L129.9 101.0 L129.9 101.8 L129.9 102.5 L129.9 103.2 L129.9 104.0 L129.8 104.8 L129.7 105.2 L129.5 106.0 L129.3 106.5 L129.0 107.0 L128.8 107.4 L128.5 107.8 L128.1 108.2 L127.8 108.7 L127.5 109.0 L127.0 109.5 L126.7 109.8 L126.2 110.2 L126.0 110.5 L125.5 110.9 L125.1 111.2 L124.8 111.6 L124.2 112.0 L123.9 112.2 L123.5 112.6 L123.0 113.0 L122.6 113.2 L122.2 113.5 L121.8 113.9 L121.2 114.2 L120.8 114.5 L120.4 114.8 L120.0 115.0 L119.5 115.3 L119.0 115.5 L118.5 115.8 L118.0 116.0 L117.5 116.2 L116.8 116.5 L116.2 116.7 L115.8 116.9 L115.2 117.1 L114.7 117.2 L114.0 117.5 L113.5 117.6 L113.0 117.8 L112.2 118.0 L111.8 118.1 L111.2 118.2 L110.5 118.5 L110.0 118.6 L109.5 118.8 L108.8 119.0 L108.2 119.2 L107.8 119.3 L107.2 119.5 L106.7 119.8 L106.1 120.0 L105.5 120.2 L105.0 120.5 L104.5 120.7 L104.0 121.0 L103.5 121.2 L103.0 121.5 L102.5 121.7 L102.0 122.0 L101.5 122.2 L101.1 122.5 L100.6 122.8 L100.1 123.0 L99.6 123.2 L99.0 123.5 L98.5 123.7 L98.0 123.9 L97.5 124.0 L96.8 124.2"/>
<path d="M97.2 122.8 L96.5 122.9 L95.8 123.0 L95.0 122.9 L94.2 122.8 L93.8 122.6 L93.2 122.4 L92.8 122.2 L92.2 121.9 L91.8 121.5 L91.4 121.2 L91.0 120.9 L90.6 120.5 L90.2 120.1 L90.0 119.8 L89.5 119.2 L89.2 118.9 L89.0 118.5 L88.6 118.0 L88.2 117.6 L88.0 117.2 L87.6 116.8 L87.2 116.4 L86.9 116.0 L86.5 115.5 L86.2 115.2 L85.8 114.8 L85.3 114.5 L85.0 114.2 L84.5 113.9 L84.0 113.5 L83.5 113.2 L83.1 113.0 L82.7 112.8 L82.2 112.4 L81.8 112.1 L81.2 111.8 L80.9 111.5 L80.5 111.2 L80.0 110.8 L79.7 110.5 L79.2 110.0 L79.0 109.7 L78.6 109.2 L78.3 108.8 L78.0 108.2 L77.8 107.8 L77.5 107.2 L77.3 106.8 L77.1 106.2 L77.0 105.8 L76.8 105.0 L76.7 104.5 L76.6 103.8 L76.5 103.0 L76.5 102.5 L76.4 101.8 L76.4 101.0 L76.4 100.2 L76.4 99.5 L76.5 98.8 L76.6 98.2 L76.8 97.7 L77.0 97.0 L77.2 96.5 L77.5 96.0 L77.8 95.5 L78.0 95.2 L78.3 94.8 L78.7 94.2 L79.0 94.0 L79.5 93.5 L79.8 93.2 L80.2 92.8 L80.7 92.5 L81.0 92.2 L81.5 91.9 L82.0 91.6 L82.5 91.2 L82.9 91.0 L83.3 90.8 L83.8 90.5 L84.2 90.2 L84.8 89.9 L85.2 89.7 L85.8 89.4 L86.2 89.2 L86.8 88.9 L87.2 88.7 L87.8 88.4 L88.2 88.2 L88.8 88.0 L89.4 87.8 L90.0 87.5 L90.5 87.4 L91.0 87.2 L91.7 87.0 L92.2 86.8 L92.8 86.7 L93.5 86.6 L94.0 86.5 L94.8 86.4 L95.5 86.3 L96.0 86.2 L96.8 86.2 L97.5 86.1 L98.2 86.1 L99.0 86.1 L99.8 86.2 L100.5 86.2 L101.2 86.2 L102.0 86.2 L102.5 86.3 L103.2 86.3 L104.0 86.4 L104.8 86.4 L105.3 86.5 L106.0 86.6 L106.8 86.7 L107.5 86.8 L108.0 86.8 L108.8 86.9 L109.2 87.0 L110.0 87.1 L110.6 87.2 L111.2 87.4 L111.9 87.5 L112.5 87.6 L113.0 87.8 L113.8 87.9 L114.2 88.0 L115.0 88.2 L115.5 88.4 L116.0 88.5 L116.7 88.8 L117.2 88.9 L117.8 89.1 L118.2 89.3 L118.8 89.5 L119.4 89.8 L120.0 90.0 L120.5 90.2 L121.0 90.4 L121.5 90.7 L122.0 90.9 L122.5 91.2 L123.0 91.5 L123.4 91.8 L123.8 92.0 L124.2 92.4 L124.8 92.7 L125.1 93.0 L125.5 93.4 L125.9 93.8 L126.2 94.2 L126.5 94.5 L126.9 95.0 L127.2 95.5 L127.4 96.0 L127.6 96.5 L127.8 97.0 L127.9 97.8 L128.0 98.5 L128.0 99.2 L128.0 99.8 L128.0 100.5 L128.0 101.0 L128.0 101.8 L128.0 102.5 L127.9 103.2 L127.9 104.0 L127.8 104.8 L127.7 105.2 L127.5 106.0 L127.3 106.5 L127.0 107.0 L126.8 107.3 L126.5 107.8 L126.1 108.2 L125.8 108.6 L125.4 109.0 L125.0 109.4 L124.7 109.8 L124.2 110.1 L123.9 110.5 L123.5 110.8 L123.0 111.2 L122.7 111.5 L122.2 111.8 L121.8 112.2 L121.3 112.5 L120.9 112.8 L120.5 113.0 L120.0 113.4 L119.5 113.7 L119.0 113.9 L118.5 114.2 L118.0 114.5 L117.5 114.7 L117.0 114.9 L116.5 115.1 L116.0 115.3 L115.5 115.5 L114.9 115.8 L114.2 116.0 L113.8 116.1 L113.2 116.3 L112.6 116.5 L112.0 116.7 L111.5 116.8 L111.0 117.0 L110.2 117.2 L109.8 117.4 L109.2 117.6 L108.7 117.8 L108.0 118.0 L107.5 118.2 L107.0 118.4 L106.5 118.6 L106.0 118.8 L105.5 119.0 L104.9 119.2 L104.4 119.5 L103.9 119.8 L103.4 120.0 L102.9 120.2 L102.4 120.5 L101.9 120.8 L101.4 121.0 L100.9 121.2 L100.4 121.5 L99.9 121.8 L99.3 122.0 L98.8 122.2 L98.2 122.4 L97.8 122.6 L97.2 122.8"/>
<path d="M96.2 121.5 L95.5 121.5 L95.0 121.5 L94.2 121.3 L93.8 121.1 L93.2 120.9 L92.8 120.6 L92.3 120.2 L92.0 120.0 L91.5 119.5 L91.2 119.2 L90.8 118.8 L90.5 118.4 L90.1 118.0 L89.8 117.5 L89.5 117.2 L89.2 116.8 L88.8 116.2 L88.5 115.9 L88.2 115.5 L87.8 115.0 L87.5 114.8 L87.0 114.3 L86.7 114.0 L86.2 113.6 L85.8 113.2 L85.4 113.0 L85.0 112.7 L84.5 112.4 L84.0 112.1 L83.5 111.8 L83.0 111.5 L82.6 111.2 L82.2 111.0 L81.8 110.7 L81.2 110.3 L80.9 110.0 L80.5 109.7 L80.1 109.2 L79.8 108.9 L79.4 108.5 L79.1 108.0 L78.8 107.5 L78.5 107.0 L78.2 106.5 L78.0 106.0 L77.9 105.5 L77.7 105.0 L77.6 104.2 L77.5 103.8 L77.4 103.0 L77.3 102.2 L77.2 101.6 L77.2 101.0 L77.2 100.2 L77.2 99.5 L77.3 99.0 L77.4 98.2 L77.6 97.8 L77.8 97.2 L78.0 96.7 L78.2 96.2 L78.6 95.8 L78.9 95.2 L79.2 94.9 L79.6 94.5 L80.0 94.1 L80.4 93.8 L80.8 93.4 L81.2 93.0 L81.6 92.8 L82.0 92.5 L82.5 92.2 L83.0 91.8 L83.5 91.5 L84.0 91.3 L84.5 91.0 L84.9 90.8 L85.4 90.5 L85.9 90.2 L86.3 90.0 L86.8 89.8 L87.3 89.5 L87.9 89.2 L88.4 89.0 L89.0 88.8 L89.5 88.5 L90.0 88.4 L90.5 88.2 L91.0 88.0 L91.8 87.8 L92.2 87.6 L92.8 87.5 L93.5 87.3 L94.0 87.2 L94.8 87.1 L95.5 87.0 L96.0 87.0 L96.8 86.9 L97.5 86.9 L98.2 86.9 L99.0 86.9 L99.8 86.9 L100.5 86.9 L101.2 87.0 L101.8 87.0 L102.5 87.0 L103.2 87.1 L104.0 87.2 L104.8 87.2 L105.2 87.3 L106.0 87.4 L106.8 87.5 L107.2 87.5 L108.0 87.6 L108.7 87.8 L109.2 87.8 L110.0 88.0 L110.5 88.1 L111.2 88.2 L111.8 88.3 L112.5 88.5 L113.0 88.6 L113.5 88.8 L114.2 89.0 L114.8 89.1 L115.2 89.3 L116.0 89.5 L116.5 89.7 L117.0 89.9 L117.5 90.0 L118.0 90.2 L118.6 90.5 L119.2 90.8 L119.7 91.0 L120.2 91.2 L120.7 91.5 L121.1 91.8 L121.5 92.0 L122.0 92.3 L122.5 92.7 L122.9 93.0 L123.3 93.2 L123.8 93.7 L124.1 94.0 L124.5 94.5 L124.8 94.8 L125.1 95.2 L125.4 95.8 L125.6 96.2 L125.8 96.8 L126.0 97.5 L126.0 98.0 L126.0 98.8 L126.0 99.5 L126.0 100.2 L126.0 101.0 L126.0 101.5 L125.9 102.2 L125.9 103.0 L125.8 103.8 L125.7 104.2 L125.6 105.0 L125.5 105.5 L125.2 106.2 L125.0 106.7 L124.8 107.1 L124.5 107.5 L124.1 108.0 L123.8 108.4 L123.4 108.8 L123.0 109.2 L122.7 109.5 L122.2 109.9 L121.8 110.2 L121.5 110.5 L121.0 110.9 L120.5 111.2 L120.2 111.5 L119.8 111.8 L119.2 112.1 L118.8 112.4 L118.2 112.7 L117.8 113.0 L117.2 113.2 L116.8 113.5 L116.2 113.7 L115.8 113.9 L115.2 114.1 L114.8 114.3 L114.2 114.5 L113.6 114.8 L113.0 115.0 L112.5 115.1 L112.0 115.3 L111.5 115.5 L110.8 115.7 L110.2 115.9 L109.8 116.1 L109.2 116.3 L108.6 116.5 L108.0 116.7 L107.5 116.9 L107.0 117.1 L106.5 117.3 L106.0 117.5 L105.4 117.8 L104.8 118.0 L104.3 118.2 L103.8 118.5 L103.3 118.8 L102.8 119.0 L102.2 119.2 L101.8 119.5 L101.2 119.7 L100.8 120.0 L100.2 120.2 L99.8 120.5 L99.2 120.7 L98.8 120.9 L98.2 121.1 L97.7 121.2 L97.0 121.4 L96.4 121.5"/>
<path d="M97.5 119.8 L96.8 119.9 L96.0 120.0 L95.2 119.9 L94.6 119.8 L94.0 119.5 L93.5 119.3 L93.1 119.0 L92.8 118.7 L92.2 118.3 L92.0 118.0 L91.5 117.5 L91.2 117.2 L90.9 116.8 L90.5 116.3 L90.2 116.0 L89.9 115.5 L89.5 115.1 L89.2 114.8 L88.8 114.2 L88.5 113.9 L88.1 113.5 L87.8 113.2 L87.2 112.8 L86.9 112.5 L86.5 112.2 L86.0 111.8 L85.5 111.5 L85.0 111.2 L84.6 111.0 L84.2 110.8 L83.7 110.5 L83.2 110.2 L82.8 109.9 L82.2 109.6 L81.8 109.2 L81.5 109.0 L81.0 108.6 L80.7 108.2 L80.2 107.8 L80.0 107.4 L79.7 107.0 L79.4 106.5 L79.1 106.0 L78.9 105.5 L78.8 104.9 L78.6 104.2 L78.5 103.8 L78.3 103.0 L78.2 102.3 L78.2 101.8 L78.1 101.0 L78.1 100.2 L78.1 99.5 L78.2 98.8 L78.4 98.2 L78.5 97.8 L78.8 97.2 L79.0 96.7 L79.3 96.2 L79.6 95.8 L80.0 95.3 L80.3 95.0 L80.8 94.5 L81.1 94.2 L81.5 93.9 L82.0 93.5 L82.4 93.2 L82.8 93.0 L83.2 92.7 L83.8 92.4 L84.2 92.1 L84.8 91.8 L85.2 91.5 L85.8 91.3 L86.2 91.0 L86.7 90.8 L87.2 90.5 L87.7 90.2 L88.2 90.0 L88.8 89.8 L89.2 89.6 L89.8 89.4 L90.2 89.2 L90.8 89.0 L91.4 88.8 L92.0 88.6 L92.5 88.4 L93.2 88.2 L93.8 88.1 L94.4 88.0 L95.0 87.9 L95.8 87.8 L96.5 87.8 L97.0 87.7 L97.8 87.7 L98.5 87.7 L99.2 87.7 L100.0 87.7 L100.5 87.8 L101.2 87.8 L102.0 87.8 L102.8 87.9 L103.5 87.9 L104.1 88.0 L104.8 88.1 L105.5 88.1 L106.2 88.2 L106.8 88.3 L107.5 88.4 L108.0 88.5 L108.8 88.6 L109.3 88.8 L110.0 88.9 L110.6 89.0 L111.2 89.2 L111.8 89.3 L112.5 89.5 L113.0 89.6 L113.5 89.8 L114.2 90.0 L114.8 90.2 L115.2 90.3 L115.8 90.5 L116.4 90.8 L117.0 91.0 L117.5 91.2 L118.0 91.5 L118.5 91.7 L119.0 92.0 L119.5 92.2 L119.9 92.5 L120.3 92.8 L120.8 93.1 L121.2 93.5 L121.6 93.8 L122.0 94.1 L122.4 94.5 L122.8 95.0 L123.0 95.3 L123.3 95.8 L123.5 96.2 L123.8 96.8 L123.9 97.5 L124.0 98.2 L124.0 99.0 L123.9 99.8 L123.9 100.5 L123.8 101.2 L123.8 102.0 L123.7 102.5 L123.6 103.2 L123.5 103.9 L123.4 104.5 L123.2 105.2 L123.1 105.8 L122.9 106.2 L122.6 106.8 L122.2 107.2 L122.0 107.6 L121.6 108.0 L121.2 108.4 L120.9 108.8 L120.5 109.1 L120.1 109.5 L119.8 109.8 L119.2 110.2 L118.8 110.5 L118.4 110.8 L118.0 111.0 L117.5 111.3 L117.0 111.6 L116.5 111.9 L116.0 112.2 L115.5 112.4 L115.0 112.6 L114.5 112.9 L114.0 113.1 L113.5 113.3 L112.9 113.5 L112.3 113.8 L111.8 114.0 L111.2 114.1 L110.8 114.3 L110.2 114.5 L109.6 114.8 L109.0 115.0 L108.5 115.2 L108.0 115.4 L107.5 115.5 L107.0 115.8 L106.4 116.0 L105.8 116.2 L105.2 116.5 L104.8 116.7 L104.2 116.9 L103.8 117.2 L103.2 117.4 L102.8 117.6 L102.2 117.9 L101.8 118.1 L101.2 118.4 L100.8 118.6 L100.2 118.8 L99.8 119.0 L99.2 119.2 L98.5 119.5 L98.0 119.7 L97.5 119.8"/>
<path d="M96.8 118.3 L96.1 118.2 L95.5 118.2 L94.9 118.0 L94.4 117.8 L93.9 117.5 L93.5 117.2 L93.0 116.8 L92.7 116.5 L92.2 116.0 L92.0 115.8 L91.5 115.2 L91.2 114.9 L90.9 114.5 L90.5 114.0 L90.2 113.7 L89.8 113.2 L89.5 112.9 L89.1 112.5 L88.8 112.2 L88.2 111.8 L87.9 111.5 L87.5 111.2 L87.0 110.9 L86.5 110.6 L86.0 110.3 L85.5 110.0 L85.1 109.8 L84.6 109.5 L84.1 109.2 L83.7 109.0 L83.2 108.7 L82.8 108.4 L82.2 108.0 L81.9 107.8 L81.5 107.3 L81.2 107.0 L80.8 106.5 L80.5 106.1 L80.2 105.6 L80.0 105.0 L79.8 104.5 L79.7 104.0 L79.5 103.3 L79.4 102.8 L79.3 102.0 L79.2 101.5 L79.2 100.8 L79.1 100.0 L79.2 99.2 L79.3 98.8 L79.5 98.0 L79.7 97.5 L80.0 97.0 L80.2 96.5 L80.5 96.2 L80.9 95.8 L81.2 95.3 L81.6 95.0 L82.0 94.7 L82.5 94.3 L82.9 94.0 L83.3 93.8 L83.8 93.5 L84.2 93.2 L84.8 92.9 L85.2 92.6 L85.8 92.3 L86.2 92.0 L86.8 91.8 L87.2 91.5 L87.8 91.3 L88.2 91.0 L88.8 90.8 L89.2 90.6 L89.8 90.3 L90.2 90.1 L90.8 89.9 L91.3 89.8 L92.0 89.5 L92.5 89.4 L93.0 89.2 L93.8 89.0 L94.2 88.9 L95.0 88.8 L95.5 88.7 L96.2 88.7 L97.0 88.6 L97.8 88.6 L98.5 88.6 L99.2 88.6 L100.0 88.6 L100.8 88.7 L101.5 88.7 L102.2 88.7 L102.8 88.8 L103.5 88.8 L104.2 88.9 L104.9 89.0 L105.5 89.1 L106.2 89.2 L106.8 89.3 L107.5 89.4 L108.1 89.5 L108.8 89.6 L109.4 89.8 L110.0 89.9 L110.5 90.0 L111.2 90.2 L111.8 90.3 L112.3 90.5 L113.0 90.7 L113.5 90.9 L114.0 91.1 L114.5 91.3 L115.1 91.5 L115.7 91.8 L116.2 92.0 L116.7 92.2 L117.2 92.5 L117.6 92.8 L118.0 93.0 L118.5 93.3 L119.0 93.7 L119.4 94.0 L119.8 94.3 L120.2 94.8 L120.5 95.1 L120.8 95.5 L121.1 96.0 L121.4 96.5 L121.6 97.0 L121.7 97.8 L121.7 98.5 L121.7 99.2 L121.7 100.0 L121.6 100.8 L121.5 101.3 L121.4 102.0 L121.3 102.8 L121.2 103.2 L121.0 104.0 L120.9 104.5 L120.7 105.0 L120.5 105.8 L120.3 106.2 L120.0 106.6 L119.7 107.0 L119.3 107.5 L119.0 107.8 L118.6 108.2 L118.2 108.6 L117.8 109.0 L117.4 109.2 L117.0 109.6 L116.5 109.9 L116.0 110.2 L115.5 110.5 L115.1 110.8 L114.6 111.0 L114.1 111.2 L113.6 111.5 L113.1 111.8 L112.5 112.0 L112.0 112.2 L111.5 112.4 L111.0 112.6 L110.5 112.9 L110.0 113.1 L109.5 113.3 L108.9 113.5 L108.3 113.8 L107.8 114.0 L107.2 114.2 L106.8 114.4 L106.2 114.6 L105.8 114.8 L105.2 115.0 L104.7 115.2 L104.2 115.5 L103.6 115.8 L103.1 116.0 L102.5 116.2 L102.0 116.5 L101.5 116.7 L101.0 117.0 L100.5 117.2 L100.0 117.4 L99.5 117.6 L99.0 117.8 L98.2 118.0 L97.8 118.1 L97.0 118.2"/>
<path d="M97.2 116.3 L96.5 116.3 L96.0 116.2 L95.4 116.0 L94.9 115.8 L94.4 115.5 L94.0 115.2 L93.5 114.8 L93.2 114.5 L92.8 114.1 L92.5 113.8 L92.0 113.3 L91.8 113.0 L91.3 112.5 L91.0 112.2 L90.5 111.8 L90.2 111.5 L89.8 111.1 L89.4 110.8 L89.0 110.5 L88.5 110.1 L88.0 109.8 L87.5 109.5 L87.1 109.2 L86.6 109.0 L86.2 108.8 L85.7 108.5 L85.2 108.2 L84.8 108.0 L84.2 107.7 L83.8 107.4 L83.2 107.1 L82.9 106.8 L82.5 106.4 L82.1 106.0 L81.8 105.5 L81.5 105.0 L81.3 104.5 L81.1 104.0 L80.9 103.5 L80.8 103.0 L80.6 102.2 L80.5 101.7 L80.4 101.0 L80.4 100.2 L80.4 99.5 L80.5 98.8 L80.7 98.2 L80.9 97.8 L81.1 97.2 L81.5 96.8 L81.8 96.4 L82.1 96.0 L82.5 95.7 L83.0 95.2 L83.3 95.0 L83.8 94.7 L84.2 94.4 L84.8 94.1 L85.2 93.8 L85.7 93.5 L86.2 93.2 L86.6 93.0 L87.1 92.8 L87.6 92.5 L88.0 92.2 L88.5 92.0 L89.1 91.8 L89.6 91.5 L90.2 91.2 L90.8 91.0 L91.2 90.8 L91.8 90.6 L92.2 90.5 L93.0 90.2 L93.5 90.1 L94.0 90.0 L94.8 89.8 L95.3 89.8 L96.0 89.7 L96.8 89.6 L97.5 89.6 L98.2 89.6 L99.0 89.6 L99.8 89.6 L100.5 89.6 L101.2 89.7 L102.0 89.7 L102.5 89.8 L103.2 89.8 L104.0 89.9 L104.7 90.0 L105.2 90.1 L106.0 90.2 L106.5 90.3 L107.2 90.4 L107.8 90.5 L108.5 90.7 L109.0 90.8 L109.8 91.0 L110.2 91.1 L110.8 91.3 L111.5 91.5 L112.0 91.7 L112.5 91.8 L113.0 92.0 L113.5 92.2 L114.1 92.5 L114.6 92.8 L115.1 93.0 L115.5 93.2 L116.0 93.5 L116.5 93.9 L117.0 94.2 L117.3 94.5 L117.8 94.9 L118.1 95.2 L118.5 95.8 L118.8 96.2 L119.0 96.7 L119.2 97.2 L119.2 97.9 L119.3 98.5 L119.2 99.0 L119.2 99.8 L119.1 100.5 L119.0 101.0 L118.8 101.8 L118.7 102.2 L118.5 103.0 L118.4 103.5 L118.2 104.0 L118.0 104.7 L117.8 105.2 L117.6 105.8 L117.3 106.2 L117.0 106.6 L116.6 107.0 L116.2 107.3 L115.8 107.8 L115.5 108.0 L115.0 108.4 L114.5 108.8 L114.2 109.0 L113.8 109.3 L113.2 109.6 L112.8 109.9 L112.2 110.2 L111.8 110.4 L111.2 110.7 L110.8 110.9 L110.2 111.1 L109.8 111.4 L109.2 111.6 L108.8 111.8 L108.2 112.0 L107.8 112.3 L107.2 112.5 L106.6 112.8 L106.0 113.0 L105.5 113.2 L105.0 113.5 L104.5 113.7 L104.0 113.9 L103.5 114.1 L103.0 114.3 L102.5 114.6 L102.0 114.8 L101.5 115.0 L100.9 115.2 L100.3 115.5 L99.8 115.7 L99.2 115.9 L98.7 116.0 L98.0 116.2 L97.5 116.2"/>
<path d="M98.8 113.8 L98.0 113.9 L97.2 113.9 L96.5 113.8 L96.0 113.6 L95.5 113.4 L95.0 113.1 L94.5 112.8 L94.2 112.5 L93.8 112.2 L93.3 111.8 L93.0 111.5 L92.5 111.0 L92.2 110.8 L91.8 110.4 L91.3 110.0 L90.9 109.8 L90.5 109.4 L90.0 109.1 L89.5 108.8 L89.1 108.5 L88.6 108.2 L88.2 108.0 L87.7 107.8 L87.2 107.5 L86.7 107.2 L86.2 107.0 L85.8 106.7 L85.2 106.4 L84.8 106.1 L84.3 105.8 L84.0 105.5 L83.6 105.0 L83.2 104.5 L83.0 104.1 L82.8 103.6 L82.5 103.0 L82.3 102.5 L82.2 102.0 L82.0 101.2 L82.0 100.8 L81.9 100.0 L82.0 99.2 L82.1 98.8 L82.3 98.2 L82.5 97.8 L82.9 97.2 L83.2 96.8 L83.5 96.5 L84.0 96.1 L84.5 95.8 L84.8 95.5 L85.2 95.2 L85.8 94.9 L86.2 94.6 L86.8 94.3 L87.2 94.0 L87.7 93.8 L88.1 93.5 L88.6 93.2 L89.1 93.0 L89.6 92.8 L90.1 92.5 L90.7 92.2 L91.2 92.0 L91.8 91.8 L92.2 91.6 L92.8 91.5 L93.5 91.2 L94.0 91.1 L94.5 91.0 L95.2 90.9 L96.0 90.8 L96.5 90.7 L97.2 90.7 L98.0 90.6 L98.8 90.7 L99.5 90.7 L100.2 90.7 L100.8 90.8 L101.5 90.8 L102.2 90.9 L103.0 90.9 L103.5 91.0 L104.2 91.1 L105.0 91.2 L105.5 91.3 L106.2 91.4 L106.8 91.5 L107.5 91.7 L108.0 91.8 L108.6 92.0 L109.2 92.2 L109.8 92.3 L110.2 92.5 L110.9 92.8 L111.5 93.0 L112.0 93.2 L112.5 93.5 L113.0 93.7 L113.5 94.0 L113.9 94.2 L114.2 94.5 L114.8 94.9 L115.1 95.2 L115.5 95.7 L115.8 96.0 L116.1 96.5 L116.3 97.0 L116.5 97.8 L116.5 98.5 L116.4 99.2 L116.3 100.0 L116.2 100.5 L116.1 101.2 L115.9 101.8 L115.8 102.3 L115.5 102.9 L115.3 103.5 L115.1 104.0 L114.8 104.5 L114.6 105.0 L114.3 105.5 L114.0 106.0 L113.7 106.2 L113.2 106.7 L112.8 107.0 L112.5 107.3 L112.0 107.6 L111.5 108.0 L111.1 108.2 L110.7 108.5 L110.2 108.8 L109.8 109.0 L109.2 109.3 L108.8 109.6 L108.2 109.8 L107.8 110.1 L107.2 110.3 L106.8 110.6 L106.2 110.8 L105.8 111.0 L105.2 111.3 L104.8 111.5 L104.2 111.8 L103.6 112.0 L103.1 112.2 L102.5 112.5 L102.0 112.7 L101.5 112.9 L101.0 113.1 L100.5 113.3 L99.8 113.5 L99.2 113.6 L98.8 113.8"/>
<path d="M99.5 110.5 L98.8 110.6 L98.0 110.7 L97.2 110.6 L96.6 110.5 L96.0 110.3 L95.5 110.0 L95.0 109.8 L94.5 109.5 L94.1 109.2 L93.8 109.0 L93.2 108.7 L92.8 108.3 L92.2 108.0 L91.8 107.8 L91.4 107.5 L91.0 107.2 L90.5 107.0 L90.0 106.7 L89.5 106.5 L89.0 106.2 L88.5 106.0 L88.0 105.6 L87.5 105.3 L87.1 105.0 L86.8 104.7 L86.3 104.2 L86.0 104.0 L85.6 103.5 L85.2 103.0 L85.0 102.6 L84.8 102.2 L84.5 101.6 L84.3 101.0 L84.2 100.5 L84.1 99.8 L84.2 99.0 L84.5 98.5 L84.7 98.0 L85.0 97.6 L85.3 97.2 L85.8 96.8 L86.1 96.5 L86.5 96.2 L87.0 95.8 L87.5 95.5 L87.9 95.2 L88.2 95.0 L88.8 94.7 L89.2 94.4 L89.8 94.1 L90.2 93.9 L90.8 93.6 L91.2 93.4 L91.8 93.2 L92.2 93.0 L92.9 92.8 L93.5 92.6 L94.0 92.4 L94.7 92.2 L95.2 92.1 L96.0 92.0 L96.5 92.0 L97.2 91.9 L98.0 91.9 L98.8 91.9 L99.5 92.0 L100.2 92.0 L100.8 92.0 L101.5 92.1 L102.2 92.2 L102.8 92.2 L103.5 92.4 L104.2 92.5 L104.8 92.6 L105.5 92.7 L106.0 92.8 L106.6 93.0 L107.2 93.2 L107.8 93.3 L108.2 93.5 L108.9 93.8 L109.5 94.0 L110.0 94.2 L110.5 94.5 L110.9 94.8 L111.3 95.0 L111.8 95.3 L112.2 95.8 L112.5 96.0 L112.9 96.5 L113.1 97.0 L113.3 97.5 L113.4 98.2 L113.3 99.0 L113.2 99.5 L113.0 100.2 L112.9 100.8 L112.7 101.2 L112.5 101.8 L112.2 102.2 L112.0 102.8 L111.7 103.2 L111.3 103.8 L111.0 104.2 L110.8 104.6 L110.4 105.0 L110.0 105.5 L109.7 105.8 L109.2 106.2 L108.8 106.5 L108.3 106.8 L107.9 107.0 L107.4 107.2 L107.0 107.5 L106.5 107.8 L106.0 108.0 L105.5 108.3 L105.0 108.5 L104.4 108.8 L103.9 109.0 L103.3 109.2 L102.8 109.5 L102.2 109.7 L101.8 109.9 L101.2 110.0 L100.6 110.2 L100.0 110.4 L99.5 110.5"/>
<path d="M98.0 106.5 L97.2 106.5 L96.8 106.5 L96.0 106.3 L95.5 106.2 L94.9 106.0 L94.2 105.8 L93.8 105.5 L93.2 105.3 L92.8 105.1 L92.2 104.8 L91.8 104.5 L91.4 104.2 L91.0 104.0 L90.5 103.7 L90.0 103.3 L89.7 103.0 L89.2 102.6 L88.9 102.2 L88.5 101.8 L88.2 101.4 L88.0 100.9 L87.8 100.4 L87.6 99.8 L87.6 99.0 L87.8 98.4 L88.0 97.8 L88.2 97.4 L88.6 97.0 L89.0 96.6 L89.4 96.2 L89.8 96.0 L90.2 95.6 L90.8 95.3 L91.2 95.0 L91.8 94.8 L92.2 94.5 L92.8 94.3 L93.2 94.1 L93.8 94.0 L94.5 93.8 L95.0 93.6 L95.7 93.5 L96.2 93.4 L97.0 93.4 L97.8 93.3 L98.5 93.4 L99.2 93.4 L100.0 93.5 L100.5 93.5 L101.2 93.6 L102.0 93.7 L102.5 93.8 L103.2 93.9 L103.8 94.0 L104.5 94.2 L105.0 94.3 L105.5 94.5 L106.2 94.8 L106.8 95.0 L107.2 95.2 L107.8 95.4 L108.2 95.8 L108.6 96.0 L109.0 96.4 L109.3 96.8 L109.6 97.2 L109.8 97.8 L109.8 98.5 L109.7 99.0 L109.5 99.6 L109.2 100.2 L109.0 100.7 L108.8 101.1 L108.4 101.5 L108.0 102.0 L107.8 102.3 L107.3 102.8 L107.0 103.0 L106.5 103.4 L106.1 103.8 L105.7 104.0 L105.2 104.3 L104.8 104.6 L104.2 104.8 L103.8 105.1 L103.2 105.3 L102.7 105.5 L102.0 105.7 L101.5 105.9 L101.0 106.0 L100.2 106.2 L99.8 106.3 L99.0 106.4 L98.2 106.5"/>
<path d="M98.2 102.8 L97.5 102.8 L96.8 102.8 L96.0 102.8 L95.5 102.6 L95.0 102.5 L94.3 102.2 L93.8 102.0 L93.3 101.8 L93.0 101.5 L92.5 101.2 L92.1 100.8 L91.8 100.4 L91.5 100.0 L91.2 99.5 L91.0 98.8 L91.1 98.0 L91.3 97.5 L91.6 97.0 L92.0 96.6 L92.5 96.2 L92.9 96.0 L93.4 95.8 L94.0 95.5 L94.5 95.3 L95.0 95.2 L95.8 95.0 L96.2 94.9 L97.0 94.9 L97.8 94.9 L98.5 94.9 L99.2 95.0 L99.8 95.0 L100.5 95.1 L101.2 95.2 L101.8 95.4 L102.3 95.5 L103.0 95.7 L103.5 95.9 L104.0 96.1 L104.5 96.3 L105.0 96.6 L105.4 97.0 L105.8 97.5 L105.9 98.0 L105.8 98.8 L105.5 99.2 L105.2 99.7 L105.0 100.0 L104.5 100.5 L104.1 100.8 L103.7 101.0 L103.2 101.3 L102.8 101.5 L102.2 101.8 L101.6 102.0 L101.0 102.2 L100.5 102.3 L99.8 102.5 L99.2 102.6 L98.5 102.7"/>
<path d="M98.5 99.8 L97.8 99.9 L97.0 100.0 L96.2 99.9 L95.8 99.7 L95.2 99.5 L94.8 99.0 L94.5 98.6 L94.4 98.0 L94.7 97.5 L95.0 97.2 L95.5 96.9 L96.1 96.8 L96.8 96.6 L97.5 96.6 L98.2 96.7 L98.8 96.8 L99.5 97.0 L100.0 97.1 L100.5 97.4 L100.8 97.8 L100.8 98.5 L100.5 98.8 L100.0 99.2 L99.5 99.5 L99.0 99.6 L98.5 99.8"/>
</g>
  <g id="dots" fill="#888">
<circle cx="112.1" cy="77.8" r="0.61" fill="#666"/>
<circle cx="166.2" cy="107.4" r="0.46" fill="#666"/>
<circle cx="169.4" cy="105.8" r="0.59" fill="#888"/>
<circle cx="167.8" cy="132.3" r="0.58" fill="#aaa"/>
<circle cx="154.4" cy="122.2" r="0.64" fill="#aaa"/>
<circle cx="79.6" cy="77.9" r="0.57" fill="#aaa"/>
<circle cx="173.7" cy="133.6" r="0.50" fill="#999"/>
<circle cx="156.5" cy="89.7" r="0.56" fill="#888"/>
<circle cx="155.8" cy="117.0" r="0.56" fill="#999"/>
<circle cx="147.0" cy="124.7" r="0.53" fill="#666"/>
<circle cx="158.3" cy="104.9" r="0.62" fill="#aaa"/>
<circle cx="58.2" cy="145.9" r="0.45" fill="#999"/>
<circle cx="143.8" cy="82.8" r="0.45" fill="#666"/>
<circle cx="54.7" cy="122.0" r="0.69" fill="#aaa"/>
<circle cx="55.7" cy="134.7" r="0.46" fill="#999"/>
<circle cx="130.7" cy="78.7" r="0.56" fill="#888"/>
<circle cx="148.1" cy="124.0" r="0.53" fill="#666"/>
<circle cx="64.9" cy="128.6" r="0.46" fill="#888"/>
<circle cx="61.6" cy="102.5" r="0.65" fill="#999"/>
<circle cx="154.1" cy="98.2" r="0.69" fill="#999"/>
<circle cx="158.9" cy="138.7" r="0.46" fill="#999"/>
<circle cx="61.5" cy="129.4" r="0.63" fill="#888"/>
<circle cx="168.1" cy="111.3" r="0.54" fill="#888"/>
<circle cx="77.1" cy="80.6" r="0.63" fill="#999"/>
<circle cx="56.6" cy="144.2" r="0.46" fill="#999"/>
<circle cx="177.8" cy="142.4" r="0.56" fill="#888"/>
<circle cx="169.3" cy="95.0" r="0.40" fill="#999"/>
<circle cx="62.8" cy="113.3" r="0.45" fill="#999"/>
<circle cx="154.7" cy="113.9" r="0.67" fill="#666"/>
<circle cx="154.0" cy="127.4" r="0.45" fill="#666"/>
<circle cx="177.7" cy="108.3" r="0.55" fill="#999"/>
<circle cx="164.3" cy="129.2" r="0.69" fill="#999"/>
<circle cx="134.4" cy="81.6" r="0.67" fill="#aaa"/>
<circle cx="162.7" cy="116.9" r="0.44" fill="#888"/>
<circle cx="153.9" cy="129.0" r="0.56" fill="#888"/>
<circle cx="170.4" cy="142.2" r="0.70" fill="#666"/>
<circle cx="132.8" cy="82.0" r="0.67" fill="#aaa"/>
<circle cx="71.7" cy="88.3" r="0.56" fill="#888"/>
<circle cx="163.1" cy="110.0" r="0.52" fill="#666"/>
<circle cx="167.7" cy="128.7" r="0.54" fill="#888"/>
<circle cx="174.0" cy="125.3" r="0.68" fill="#888"/>
<circle cx="157.9" cy="88.0" r="0.62" fill="#999"/>
<circle cx="167.8" cy="72.1" r="0.58" fill="#aaa"/>
<circle cx="58.2" cy="101.0" r="0.55" fill="#aaa"/>
<circle cx="62.4" cy="104.1" r="0.45" fill="#aaa"/>
<circle cx="136.6" cy="73.5" r="0.64" fill="#aaa"/>
<circle cx="153.6" cy="116.2" r="0.43" fill="#666"/>
<circle cx="168.6" cy="136.7" r="0.63" fill="#999"/>
<circle cx="164.8" cy="87.6" r="0.44" fill="#888"/>
<circle cx="155.3" cy="123.7" r="0.49" fill="#999"/>
<circle cx="145.3" cy="119.2" r="0.60" fill="#999"/>
<circle cx="66.7" cy="100.2" r="0.53" fill="#888"/>
<circle cx="119.6" cy="69.7" r="0.50" fill="#aaa"/>
<circle cx="111.8" cy="76.6" r="0.46" fill="#aaa"/>
<circle cx="159.4" cy="119.3" r="0.53" fill="#aaa"/>
<circle cx="160.9" cy="86.4" r="0.40" fill="#888"/>
<circle cx="64.3" cy="133.3" r="0.42" fill="#999"/>
<circle cx="153.4" cy="104.1" r="0.48" fill="#aaa"/>
<circle cx="155.6" cy="84.6" r="0.49" fill="#666"/>
<circle cx="156.8" cy="80.4" r="0.49" fill="#aaa"/>
<circle cx="139.0" cy="78.4" r="0.52" fill="#999"/>
<circle cx="114.9" cy="77.8" r="0.51" fill="#666"/>
<circle cx="149.9" cy="95.2" r="0.46" fill="#888"/>
<circle cx="165.8" cy="141.1" r="0.53" fill="#888"/>
<circle cx="150.0" cy="124.9" r="0.47" fill="#666"/>
<circle cx="54.4" cy="143.4" r="0.50" fill="#666"/>
<circle cx="161.4" cy="116.2" r="0.49" fill="#999"/>
<circle cx="65.0" cy="109.5" r="0.61" fill="#999"/>
<circle cx="157.4" cy="144.7" r="0.48" fill="#666"/>
<circle cx="115.4" cy="74.7" r="0.53" fill="#aaa"/>
<circle cx="156.7" cy="137.3" r="0.54" fill="#aaa"/>
<circle cx="78.5" cy="82.9" r="0.60" fill="#888"/>
<circle cx="163.0" cy="135.9" r="0.59" fill="#888"/>
<circle cx="146.3" cy="123.2" r="0.48" fill="#999"/>
<circle cx="67.5" cy="90.0" r="0.61" fill="#aaa"/>
<circle cx="148.9" cy="90.3" r="0.66" fill="#888"/>
<circle cx="135.5" cy="83.8" r="0.53" fill="#888"/>
<circle cx="61.3" cy="114.4" r="0.45" fill="#666"/>
<circle cx="60.2" cy="99.2" r="0.63" fill="#666"/>
<circle cx="157.1" cy="108.2" r="0.56" fill="#aaa"/>
<circle cx="143.8" cy="85.4" r="0.60" fill="#666"/>
<circle cx="122.6" cy="78.9" r="0.51" fill="#888"/>
<circle cx="161.1" cy="137.9" r="0.48" fill="#999"/>
<circle cx="83.2" cy="77.3" r="0.50" fill="#aaa"/>
<circle cx="162.7" cy="91.0" r="0.70" fill="#888"/>
<circle cx="114.0" cy="75.7" r="0.61" fill="#aaa"/>
<circle cx="150.9" cy="92.2" r="0.60" fill="#666"/>
<circle cx="145.1" cy="123.8" r="0.42" fill="#666"/>
<circle cx="155.9" cy="103.9" r="0.45" fill="#999"/>
<circle cx="141.2" cy="86.5" r="0.63" fill="#999"/>
<circle cx="141.7" cy="82.2" r="0.49" fill="#aaa"/>
<circle cx="161.5" cy="137.7" r="0.48" fill="#666"/>
<circle cx="161.8" cy="139.6" r="0.51" fill="#999"/>
<circle cx="81.6" cy="79.5" r="0.55" fill="#aaa"/>
<circle cx="59.4" cy="126.8" r="0.59" fill="#666"/>
<circle cx="62.1" cy="131.7" r="0.60" fill="#888"/>
<circle cx="67.3" cy="98.4" r="0.64" fill="#999"/>
<circle cx="145.1" cy="118.9" r="0.68" fill="#aaa"/>
<circle cx="127.6" cy="78.6" r="0.68" fill="#aaa"/>
<circle cx="163.6" cy="96.4" r="0.69" fill="#aaa"/>
<circle cx="127.1" cy="81.4" r="0.57" fill="#999"/>
<circle cx="163.2" cy="83.9" r="0.58" fill="#888"/>
<circle cx="158.4" cy="110.2" r="0.48" fill="#999"/>
<circle cx="157.0" cy="93.8" r="0.48" fill="#888"/>
<circle cx="170.7" cy="108.2" r="0.60" fill="#888"/>
<circle cx="174.6" cy="126.7" r="0.45" fill="#aaa"/>
<circle cx="81.7" cy="79.9" r="0.57" fill="#666"/>
<circle cx="60.7" cy="103.9" r="0.47" fill="#666"/>
<circle cx="160.8" cy="119.0" r="0.49" fill="#999"/>
<circle cx="65.0" cy="93.4" r="0.43" fill="#aaa"/>
<circle cx="94.0" cy="77.0" r="0.63" fill="#aaa"/>
<circle cx="61.7" cy="146.7" r="0.46" fill="#888"/>
<circle cx="161.0" cy="137.1" r="0.44" fill="#aaa"/>
<circle cx="62.0" cy="142.7" r="0.52" fill="#888"/>
<circle cx="68.1" cy="95.0" r="0.55" fill="#999"/>
<circle cx="158.5" cy="94.6" r="0.48" fill="#888"/>
<circle cx="59.1" cy="137.0" r="0.61" fill="#666"/>
<circle cx="124.9" cy="79.4" r="0.66" fill="#999"/>
<circle cx="152.3" cy="101.4" r="0.47" fill="#666"/>
<circle cx="167.7" cy="101.8" r="0.57" fill="#666"/>
<circle cx="50.9" cy="92.5" r="0.59" fill="#666"/>
<circle cx="73.4" cy="77.4" r="0.53" fill="#666"/>
<circle cx="151.7" cy="114.6" r="0.49" fill="#666"/>
<circle cx="153.2" cy="128.9" r="0.66" fill="#888"/>
<circle cx="163.9" cy="121.5" r="0.57" fill="#888"/>
<circle cx="147.3" cy="116.9" r="0.40" fill="#999"/>
<circle cx="158.3" cy="98.9" r="0.59" fill="#888"/>
<circle cx="163.6" cy="105.8" r="0.43" fill="#666"/>
<circle cx="142.9" cy="83.6" r="0.45" fill="#999"/>
<circle cx="156.9" cy="145.8" r="0.55" fill="#888"/>
<circle cx="173.4" cy="144.2" r="0.60" fill="#666"/>
<circle cx="153.7" cy="79.1" r="0.43" fill="#999"/>
<circle cx="141.5" cy="70.5" r="0.68" fill="#aaa"/>
<circle cx="65.9" cy="110.5" r="0.44" fill="#aaa"/>
<circle cx="133.5" cy="77.0" r="0.68" fill="#999"/>
<circle cx="63.1" cy="138.9" r="0.50" fill="#666"/>
<circle cx="67.4" cy="92.5" r="0.58" fill="#888"/>
<circle cx="62.6" cy="85.2" r="0.51" fill="#999"/>
<circle cx="150.9" cy="83.8" r="0.58" fill="#888"/>
<circle cx="161.2" cy="91.0" r="0.63" fill="#666"/>
<circle cx="158.0" cy="135.7" r="0.54" fill="#888"/>
<circle cx="154.2" cy="90.6" r="0.69" fill="#666"/>
<circle cx="56.9" cy="127.0" r="0.44" fill="#aaa"/>
<circle cx="165.9" cy="108.0" r="0.69" fill="#888"/>
<circle cx="72.3" cy="86.8" r="0.50" fill="#aaa"/>
<circle cx="59.9" cy="129.1" r="0.52" fill="#999"/>
<circle cx="59.2" cy="139.0" r="0.61" fill="#666"/>
<circle cx="127.7" cy="79.3" r="0.55" fill="#aaa"/>
<circle cx="163.6" cy="120.3" r="0.47" fill="#999"/>
<circle cx="161.5" cy="105.6" r="0.50" fill="#aaa"/>
<circle cx="61.8" cy="115.6" r="0.48" fill="#999"/>
<circle cx="80.4" cy="78.9" r="0.60" fill="#999"/>
<circle cx="153.0" cy="103.7" r="0.64" fill="#999"/>
<circle cx="127.8" cy="64.3" r="0.67" fill="#999"/>
<circle cx="71.8" cy="80.5" r="0.64" fill="#888"/>
<circle cx="71.0" cy="81.1" r="0.45" fill="#aaa"/>
<circle cx="91.7" cy="77.9" r="0.69" fill="#999"/>
<circle cx="66.3" cy="103.9" r="0.51" fill="#aaa"/>
<circle cx="64.3" cy="126.0" r="0.66" fill="#888"/>
<circle cx="128.9" cy="73.3" r="0.40" fill="#666"/>
<circle cx="137.5" cy="84.6" r="0.56" fill="#666"/>
<circle cx="125.9" cy="79.6" r="0.58" fill="#666"/>
<circle cx="112.6" cy="77.7" r="0.67" fill="#999"/>
<circle cx="159.6" cy="99.2" r="0.42" fill="#666"/>
<circle cx="164.4" cy="129.5" r="0.48" fill="#666"/>
<circle cx="72.8" cy="73.9" r="0.47" fill="#999"/>
<circle cx="170.3" cy="90.9" r="0.67" fill="#999"/>
<circle cx="60.3" cy="131.2" r="0.62" fill="#999"/>
<circle cx="63.1" cy="137.1" r="0.41" fill="#888"/>
<circle cx="140.0" cy="85.9" r="0.60" fill="#999"/>
<circle cx="63.8" cy="134.9" r="0.67" fill="#aaa"/>
<circle cx="62.3" cy="123.0" r="0.60" fill="#888"/>
<circle cx="159.3" cy="135.2" r="0.43" fill="#999"/>
<circle cx="55.1" cy="126.9" r="0.70" fill="#999"/>
<circle cx="159.4" cy="130.4" r="0.44" fill="#aaa"/>
<circle cx="118.9" cy="77.9" r="0.53" fill="#666"/>
<circle cx="158.5" cy="144.1" r="0.47" fill="#999"/>
<circle cx="172.1" cy="74.5" r="0.42" fill="#aaa"/>
<circle cx="56.6" cy="144.8" r="0.62" fill="#666"/>
<circle cx="157.6" cy="120.6" r="0.49" fill="#888"/>
<circle cx="171.8" cy="81.9" r="0.61" fill="#999"/>
<circle cx="158.2" cy="140.5" r="0.42" fill="#666"/>
<circle cx="160.0" cy="82.0" r="0.41" fill="#aaa"/>
<circle cx="137.4" cy="80.5" r="0.41" fill="#aaa"/>
<circle cx="79.0" cy="80.2" r="0.45" fill="#888"/>
<circle cx="57.4" cy="82.3" r="0.56" fill="#666"/>
<circle cx="127.8" cy="78.4" r="0.45" fill="#aaa"/>
<circle cx="58.6" cy="146.2" r="0.50" fill="#888"/>
<circle cx="53.9" cy="144.3" r="0.47" fill="#666"/>
<circle cx="170.0" cy="138.5" r="0.62" fill="#888"/>
<circle cx="64.6" cy="82.5" r="0.62" fill="#888"/>
<circle cx="89.7" cy="76.6" r="0.59" fill="#999"/>
<circle cx="60.3" cy="122.7" r="0.42" fill="#888"/>
<circle cx="138.6" cy="79.6" r="0.62" fill="#aaa"/>
<circle cx="158.1" cy="137.5" r="0.52" fill="#aaa"/>
<circle cx="101.8" cy="60.5" r="0.47" fill="#888"/>
<circle cx="153.6" cy="117.1" r="0.48" fill="#888"/>
<circle cx="150.2" cy="113.4" r="0.55" fill="#888"/>
<circle cx="157.2" cy="144.4" r="0.53" fill="#aaa"/>
<circle cx="165.8" cy="129.9" r="0.44" fill="#888"/>
<circle cx="176.2" cy="134.1" r="0.66" fill="#666"/>
<circle cx="73.3" cy="85.6" r="0.69" fill="#999"/>
<circle cx="64.1" cy="133.2" r="0.42" fill="#999"/>
<circle cx="150.8" cy="92.7" r="0.66" fill="#888"/>
<circle cx="150.5" cy="127.7" r="0.51" fill="#666"/>
<circle cx="58.3" cy="98.7" r="0.42" fill="#aaa"/>
<circle cx="165.3" cy="112.1" r="0.68" fill="#888"/>
<circle cx="158.2" cy="82.3" r="0.41" fill="#888"/>
<circle cx="141.8" cy="80.5" r="0.69" fill="#999"/>
<circle cx="153.8" cy="129.6" r="0.56" fill="#999"/>
<circle cx="140.8" cy="84.9" r="0.68" fill="#999"/>
<circle cx="134.8" cy="81.7" r="0.45" fill="#888"/>
<circle cx="63.9" cy="131.8" r="0.51" fill="#999"/>
<circle cx="90.3" cy="78.2" r="0.53" fill="#aaa"/>
<circle cx="175.1" cy="108.3" r="0.61" fill="#666"/>
<circle cx="63.9" cy="92.0" r="0.56" fill="#999"/>
<circle cx="64.5" cy="111.5" r="0.64" fill="#999"/>
<circle cx="147.9" cy="116.7" r="0.53" fill="#999"/>
<circle cx="64.0" cy="142.5" r="0.65" fill="#666"/>
<circle cx="54.2" cy="116.4" r="0.52" fill="#666"/>
<circle cx="88.2" cy="73.6" r="0.40" fill="#999"/>
<circle cx="59.0" cy="73.8" r="0.44" fill="#aaa"/>
<circle cx="73.6" cy="81.0" r="0.47" fill="#aaa"/>
<circle cx="159.6" cy="144.0" r="0.45" fill="#666"/>
<circle cx="59.4" cy="146.2" r="0.46" fill="#666"/>
<circle cx="167.9" cy="141.4" r="0.68" fill="#999"/>
<circle cx="48.1" cy="121.1" r="0.52" fill="#999"/>
<circle cx="159.1" cy="143.1" r="0.51" fill="#888"/>
<circle cx="62.7" cy="131.2" r="0.45" fill="#aaa"/>
<circle cx="168.0" cy="144.9" r="0.58" fill="#999"/>
<circle cx="168.5" cy="104.4" r="0.62" fill="#666"/>
<circle cx="164.5" cy="81.0" r="0.56" fill="#888"/>
<circle cx="148.0" cy="122.2" r="0.47" fill="#666"/>
<circle cx="109.3" cy="76.6" r="0.43" fill="#666"/>
<circle cx="173.0" cy="130.1" r="0.43" fill="#999"/>
<circle cx="61.9" cy="94.0" r="0.60" fill="#999"/>
<circle cx="141.5" cy="76.2" r="0.61" fill="#888"/>
<circle cx="68.6" cy="88.1" r="0.60" fill="#666"/>
<circle cx="169.2" cy="101.2" r="0.64" fill="#999"/>
<circle cx="127.1" cy="77.4" r="0.63" fill="#666"/>
<circle cx="147.1" cy="122.3" r="0.62" fill="#666"/>
<circle cx="61.0" cy="128.1" r="0.63" fill="#999"/>
<circle cx="158.0" cy="143.0" r="0.65" fill="#aaa"/>
<circle cx="114.5" cy="77.6" r="0.46" fill="#666"/>
<circle cx="155.7" cy="95.5" r="0.68" fill="#aaa"/>
<circle cx="87.6" cy="74.5" r="0.42" fill="#888"/>
<circle cx="154.4" cy="107.7" r="0.60" fill="#888"/>
<circle cx="58.5" cy="120.2" r="0.59" fill="#666"/>
<circle cx="61.9" cy="123.6" r="0.65" fill="#666"/>
<circle cx="168.5" cy="103.4" r="0.59" fill="#999"/>
<circle cx="108.7" cy="78.2" r="0.45" fill="#999"/>
<circle cx="51.6" cy="133.9" r="0.63" fill="#666"/>
<circle cx="63.4" cy="137.5" r="0.70" fill="#999"/>
<circle cx="97.9" cy="77.7" r="0.61" fill="#888"/>
<circle cx="68.4" cy="83.1" r="0.61" fill="#666"/>
<circle cx="120.9" cy="67.4" r="0.62" fill="#666"/>
<circle cx="65.6" cy="96.4" r="0.56" fill="#999"/>
<circle cx="60.0" cy="144.7" r="0.69" fill="#888"/>
<circle cx="136.7" cy="79.5" r="0.60" fill="#aaa"/>
<circle cx="168.0" cy="140.7" r="0.63" fill="#aaa"/>
</g>
  <rect x="92" y="120.2" width="51" height="3" fill="#e0e0e0"/><rect x="143" y="120.2" width="37" height="3" fill="#c6c6c6"/>
  <path d="M44 148 V10.3 H180 V148" fill="none" stroke="#999" stroke-width="1.8"/>
  <path d="M43.5 10.3 H180.5" stroke="#8f8f8f" stroke-width="2.4"/>
  <path d="M43.2 147.9 H180.8" stroke="#555" stroke-width="1.8"/>
  <line x1="91.5" y1="10" x2="91.5" y2="148" stroke="#222" stroke-width="1"/>
  <g font-size="10.3" fill="#111">
    <text x="45.9" y="21" textLength="18.2" lengthAdjust="spacingAndGlyphs">41.2</text>
    <text x="159.6" y="21" textLength="17.6" lengthAdjust="spacingAndGlyphs">58.1</text>
  </g>
  <!-- y tick labels -->
  <g fill="#111">
    <text x="23.8" y="13.6" font-size="10.0" textLength="9.8" lengthAdjust="spacingAndGlyphs">10</text><text x="33.9" y="8.6" font-size="8.3">4</text>
    <text x="23.8" y="48" font-size="10.0" textLength="9.8" lengthAdjust="spacingAndGlyphs">10</text><text x="33.9" y="43.0" font-size="8.3">3</text>
    <text x="23.8" y="82.8" font-size="10.0" textLength="9.8" lengthAdjust="spacingAndGlyphs">10</text><text x="33.9" y="77.8" font-size="8.3">2</text>
    <text x="23.8" y="117.5" font-size="10.0" textLength="9.8" lengthAdjust="spacingAndGlyphs">10</text><text x="33.9" y="112.5" font-size="8.3">1</text>
    <text x="23.8" y="152.4" font-size="10.0" textLength="9.8" lengthAdjust="spacingAndGlyphs">10</text><text x="33.9" y="147.4" font-size="8.3">0</text>
  </g>
  <g fill="#111">
    <text x="36.8" y="164.6" font-size="10.0" textLength="9.8" lengthAdjust="spacingAndGlyphs">10</text><text x="46.9" y="159.6" font-size="8.3">0</text>
    <text x="70.9" y="164.6" font-size="10.0" textLength="9.8" lengthAdjust="spacingAndGlyphs">10</text><text x="81.0" y="159.6" font-size="8.3">1</text>
    <text x="105.2" y="164.6" font-size="10.0" textLength="9.8" lengthAdjust="spacingAndGlyphs">10</text><text x="115.3" y="159.6" font-size="8.3">2</text>
    <text x="139.2" y="164.6" font-size="10.0" textLength="9.8" lengthAdjust="spacingAndGlyphs">10</text><text x="149.3" y="159.6" font-size="8.3">3</text>
    <text x="173.2" y="164.6" font-size="10.0" textLength="9.8" lengthAdjust="spacingAndGlyphs">10</text><text x="183.3" y="159.6" font-size="8.3">4</text>
  </g>
  <text x="44.8" y="181.9" font-size="14" fill="#111" textLength="32.1" lengthAdjust="spacingAndGlyphs">Sca-1</text>
  <line x1="87.6" y1="175.3" x2="165" y2="175.3" stroke="#111" stroke-width="1.5"/>
  <path d="M164.5 170.6 L173.5 175.3 L164.5 180 Z" fill="#fff" stroke="#111" stroke-width="1.3"/>
  <line x1="8.8" y1="22" x2="8.8" y2="102.2" stroke="#111" stroke-width="1.5"/>
  <path d="M8.8 13.2 L13.3 21.8 L4.3 21.8 Z" fill="#fff" stroke="#111" stroke-width="1.3"/>
  <text transform="translate(11.8,150) rotate(-90)" font-size="14" fill="#111" textLength="27.6" lengthAdjust="spacingAndGlyphs">c-Kit</text>
</g>

<!-- ============ TOP-RIGHT: line chart ============ -->
<g id="tr">
  <g stroke="#111" stroke-width="1.4" fill="none">
    <path d="M233.8 13.4 H235.8 V148.5 H435.6"/>
    <path d="M233.5 80.7 H235.8"/>
    <path d="M233.8 148.5 H235.8"/>
    <path d="M235.8 148.5 V150.5 M302 148.5 V150.5 M369 148.5 V150.5 M435.6 148.5 V150.5"/>
  </g>
  <g font-size="9.8" font-weight="bold" fill="#111" text-anchor="end">
    <text transform="translate(229.2,16.8) scale(0.62,1)">10</text>
    <text transform="translate(229.2,83.8) scale(0.62,1)">10</text>
    <text transform="translate(229.2,152.2) scale(0.62,1)">10</text>
  </g>
  <g font-size="5.6" fill="#111">
    <text transform="translate(230.9,12.9) scale(0.75,1)">3</text>
    <text transform="translate(230.9,81.3) scale(0.75,1)">2</text>
    <text transform="translate(230.9,149.5) scale(0.75,1)">1</text>
  </g>
  <g font-size="9.2" fill="#111" text-anchor="middle">
    <text transform="translate(235.8,159.5) scale(0.82,1)">0</text>
    <text transform="translate(302.1,159.5) scale(0.82,1)">5</text>
    <text transform="translate(369,159.5) scale(0.82,1)">10</text>
    <text transform="translate(435.6,159.5) scale(0.82,1)">15</text>
  </g>
  <text x="257.5" y="173.8" font-size="13.8" font-weight="bold" fill="#111" stroke="#111" stroke-width="0.2" textLength="155.5" lengthAdjust="spacingAndGlyphs">Weeks after Transplantation</text>
  <text transform="translate(217.5,145) rotate(-90)" font-size="14.5" font-weight="bold" fill="#111" textLength="137.7" lengthAdjust="spacingAndGlyphs">No. of CD3<tspan font-size="9" dy="-6">+</tspan><tspan dy="6"> cells/μL</tspan></text>

  <!-- error bars -->
  <g stroke="#999" stroke-width="1" fill="none">
    <path d="M275.9 78.8 V103.2 M273.9 78.8 H277.9 M273.9 103.2 H277.9"/>
    <path d="M302.3 20.4 V38 M300.3 20.4 H304.3 M300.3 38 H304.3"/>
    <path d="M329.2 19.6 V29.6 M327.2 19.6 H331.2 M327.2 29.6 H331.2"/>
    <path d="M329.2 46.4 V60.1 M327.2 46.4 H331.2 M327.2 60.1 H331.2"/>
    <path d="M355.4 57.4 V88.4 M353.4 57.4 H357.4 M353.4 88.4 H357.4 M353.4 82.3 H357.4"/>
    <path d="M395.5 64.5 V80.3 M393.5 64.5 H397.5 M393.5 80.3 H397.5 M393.5 77.6 H397.5"/>
  </g>
  <polyline points="276.2,83.4 302.3,27.1 329.1,24.2 355.4,77.6 395.5,71.3" fill="none" stroke="#111" stroke-width="1.5" stroke-dasharray="3.5,2"/>
  <polyline points="275.9,89.6 302.3,27.1 329.1,52.3 355.4,66.8 395.5,70.2" fill="none" stroke="#111" stroke-width="1.5"/>
  <g fill="#fff" stroke="#bbb" stroke-width="0.8">
    <rect x="273.5" y="80.8" width="5" height="5"/>
    <rect x="326.8" y="21.9" width="4.6" height="4.6"/>
    <rect x="353" y="75.2" width="4.8" height="4.8"/>
  </g>
  <g fill="#111">
    <path d="M273.2 86.8 H278.6 L275.9 92 Z"/>
    <path d="M299.6 24.6 H305 L302.3 29.8 Z"/>
    <path d="M326.4 49.7 H331.8 L329.1 54.9 Z"/>
    <path d="M352.7 64.2 H358.1 L355.4 69.4 Z"/>
    <path d="M392.8 67.6 H398.2 L395.5 72.8 Z"/>
  </g>
  <g fill="#111"><circle cx="326.9" cy="12.7" r="1.35"/><circle cx="330.8" cy="12.7" r="1.35"/></g>

  <!-- legend -->
  <circle cx="409.8" cy="21.6" r="2" fill="#fff" stroke="#bbb" stroke-width="0.8"/>
  <g stroke="#111" stroke-width="1.1">
    <path d="M405.9 21.6 H413"/>
    <path d="M406.4 45.5 H414.3"/>
  </g>
  <path d="M407.9 43.6 H412.7 L410.3 47.8 Z" fill="#111"/>
  <g font-size="8.6" fill="#222">
    <text x="415.7" y="25" textLength="54.7" lengthAdjust="spacingAndGlyphs">Sca-1<tspan font-size="5.5" dy="-3.2">+</tspan><tspan dy="3.2">c-kit</tspan><tspan font-size="5.5" dy="-3.2">+</tspan><tspan dy="3.2"> Cells</tspan></text>
    <text x="415.7" y="49.2" textLength="38.6" lengthAdjust="spacingAndGlyphs">Sca-1<tspan font-size="5.5" dy="-3.2">+</tspan><tspan dy="3.2">c-kit</tspan><tspan font-size="5.5" dy="-3.2">-</tspan><tspan dy="3.2">,</tspan></text>
    <text x="415.7" y="61.3" textLength="50.1" lengthAdjust="spacingAndGlyphs">Sca-1<tspan font-size="5.5" dy="-3.2">-</tspan><tspan dy="3.2">c-kit</tspan><tspan font-size="5.5" dy="-3.2">+</tspan><tspan dy="3.2"> and</tspan></text>
    <text x="415.7" y="72.8" textLength="54.3" lengthAdjust="spacingAndGlyphs">Sca-1<tspan font-size="5.5" dy="-3.2">-</tspan><tspan dy="3.2">c-kit</tspan><tspan font-size="5.5" dy="-3.2">-</tspan><tspan dy="3.2"> Cells</tspan></text>
    <text x="409" y="106.3" textLength="27.3" lengthAdjust="spacingAndGlyphs">**<tspan font-style="italic">P</tspan>&lt;.01</text>
  </g>
</g>

<!-- ============ BOTTOM-LEFT: histogram ============ -->
<g id="bl">
  <rect x="33.5" y="196.3" width="145.1" height="148.3" fill="none" stroke="#8a8a8a" stroke-width="1.3"/>
  <g font-size="10" fill="#111" text-anchor="end">
    <text x="27" y="201.2">80</text>
    <text x="27" y="238.3">60</text>
    <text x="27" y="275.4">40</text>
    <text x="27" y="312.5">20</text>
    <text x="27" y="349.5">0</text>
  </g>
  <g fill="#111">
    <text x="26.6" y="362.5" font-size="10.2" textLength="9.5" lengthAdjust="spacingAndGlyphs">10</text><text x="36.8" y="357.5" font-size="8.4">0</text>
    <text x="62.6" y="362.5" font-size="10.2" textLength="9.5" lengthAdjust="spacingAndGlyphs">10</text><text x="72.8" y="357.5" font-size="8.4">1</text>
    <text x="98.9" y="362.5" font-size="10.2" textLength="9.5" lengthAdjust="spacingAndGlyphs">10</text><text x="109.1" y="357.5" font-size="8.4">2</text>
    <text x="135.1" y="362.5" font-size="10.2" textLength="9.5" lengthAdjust="spacingAndGlyphs">10</text><text x="145.3" y="357.5" font-size="8.4">3</text>
    <text x="171.4" y="362.5" font-size="10.2" textLength="9.5" lengthAdjust="spacingAndGlyphs">10</text><text x="181.6" y="357.5" font-size="8.4">4</text>
  </g>
  <text x="37.4" y="374.8" font-size="9.5" fill="#111" textLength="138" lengthAdjust="spacingAndGlyphs">Thy, B220, IL7R <tspan font-family="Liberation Serif" font-size="10">α</tspan> and/or CD25</text>
  <text transform="translate(10.3,312) rotate(-90)" font-size="13.4" fill="#111">No. of cells</text>
  <!-- gates -->
  <g stroke="#333" stroke-width="1.5">
    <path d="M33.5 302.8 H64"/>
    <path d="M63.7 300.8 V306.5"/>
    <path d="M75.5 302.8 H178.6"/>
    <path d="M75.6 300.8 V306.5"/>
  </g>
  <g font-size="9.8" fill="#111">
    <text x="38.9" y="299.1" textLength="19.1" lengthAdjust="spacingAndGlyphs">0.25</text>
    <text x="117.3" y="298.4" textLength="19.6" lengthAdjust="spacingAndGlyphs">98.1</text>
  </g>
  <polyline fill="none" stroke="#3a3a3a" stroke-width="0.9" points="33.5,344.6 48.7,344.4 56,343.8 62,342.6 66.2,341.2 69,338.5 72.3,335.4 74,336.3 76.2,337.2 78.5,334.8 80.8,332.6 82.8,330 84.6,327.7 86.9,324.6 88.8,328 90.8,331.5 93,326.5 95.4,321.5 97.7,323.8 100,322.3 102.3,320.8 104.6,315.4 106.2,311.5 107.7,307.7 109.3,306.5 110.3,305.4 111.5,300 112.7,293.5 113.5,300 114.2,305.4 115.2,294 115.8,288 117.1,284 118.7,285.6 119.8,279.3 121.4,276.9 122.2,269 123.7,262.7 124.5,256.3 125,250 126,243 127.2,238 128,232 128.7,229.5 129.4,228.2 129.6,220 129.6,212 130.2,207 131,203.7 132,208 132.6,213 133.2,218 133.8,222 134.8,226 135.6,231 136.9,237.5 137.8,240 138.6,243.8 140.1,249 140.6,256 141.4,268 142.6,282 143.5,295 144.5,310 145.4,322 146,326.5 146.8,333.5 148.3,339.3 150.3,342.2 152.6,343.6 156,344.2 162,344.5 178.6,344.6"/>
</g>

<!-- ============ BOTTOM-RIGHT: bar chart ============ -->
<g id="br">
  <text transform="translate(216.3,357.2) rotate(-90)" font-size="11" font-weight="bold" fill="#111" textLength="157" lengthAdjust="spacingAndGlyphs">No. of antigen postive cells/μL</text>
  <g font-size="8.6" font-weight="bold" fill="#111" text-anchor="end">
    <text transform="translate(229,217) scale(0.62,1)">10</text>
    <text transform="translate(229,250) scale(0.62,1)">10</text>
    <text transform="translate(229,284.1) scale(0.62,1)">10</text>
    <text transform="translate(229,318.2) scale(0.62,1)">10</text>
    <text transform="translate(229,351.3) scale(0.62,1)">10</text>
  </g>
  <g font-size="5" fill="#111">
    <text transform="translate(229.7,213.8) scale(0.8,1)">4</text>
    <text transform="translate(229.7,246.8) scale(0.8,1)">3</text>
    <text transform="translate(229.7,280.9) scale(0.8,1)">2</text>
    <text transform="translate(229.7,315.0) scale(0.8,1)">1</text>
    <text transform="translate(229.7,348.1) scale(0.8,1)">0</text>
  </g>
  <!-- bars -->
  <g stroke="#111" stroke-width="1.8">
    <rect x="241" y="295.5" width="10.6" height="52.8" fill="#fff"/>
    <rect x="251.6" y="251.3" width="11.8" height="97" fill="#666"/>
    <rect x="274" y="301.5" width="10.6" height="46.8" fill="#fff"/>
    <rect x="284.7" y="260" width="11.8" height="88.3" fill="#666"/>
    <rect x="306.7" y="296.3" width="11.1" height="52" fill="#fff"/>
    <rect x="317.8" y="270.7" width="11.8" height="77.6" fill="#666"/>
    <rect x="339.7" y="244" width="11.1" height="104.3" fill="#fff"/>
    <rect x="350.8" y="244.6" width="11.8" height="103.7" fill="#666"/>
    <rect x="372.8" y="281" width="11.4" height="67.3" fill="#fff"/>
    <rect x="384.2" y="292.2" width="11.2" height="56.1" fill="#666"/>
    <rect x="406" y="287.5" width="11.2" height="60.8" fill="#fff"/>
    <rect x="417.2" y="297.2" width="11.4" height="51.1" fill="#666"/>
  </g>
  <!-- error bars -->
  <g stroke="#666" stroke-width="1" fill="none">
    <path d="M246.3 289 V307.5 M244.3 289 H248.3 M244.3 307.5 H248.3"/>
    <path d="M257.5 249.3 V255 M255.5 249.3 H259.5 M255.5 255 H259.5"/>
    <path d="M279.2 293.5 V317 M277.2 293.5 H281.2 M277.2 317 H281.2"/>
    <path d="M290.6 253.4 V271.8 M288.6 253.4 H292.6 M288.6 271.8 H292.6"/>
    <path d="M312 287.3 V318.6 M310 287.3 H314 M310 318.6 H314"/>
    <path d="M323.7 262.4 V295.2 M321.7 262.4 H325.7 M321.7 295.2 H325.7"/>
    <path d="M345.2 243 V246 M343.2 243 H347.2"/>
    <path d="M356.7 243.5 V246 M354.7 243.5 H358.7"/>
    <path d="M378.5 274.4 V293.4 M376.5 274.4 H380.5 M376.5 293.4 H380.5"/>
    <path d="M389.8 287 V300 M387.8 287 H391.8 M387.8 300 H391.8"/>
    <path d="M411.6 281.5 V295.3 M409.6 281.5 H413.6 M409.6 295.3 H413.6"/>
    <path d="M422.9 290.6 V306 M420.9 290.6 H424.9 M420.9 306 H424.9"/>
  </g>
  <!-- axes -->
  <g stroke="#111" stroke-width="1.9" fill="none">
    <path d="M233 213.9 H234.9 V348.4 H433.6"/>
    <path d="M233 247 H235 M233 281.1 H235 M233 315.3 H235"/>
    <path d="M251.5 348.3 V351 M284.7 348.3 V351 M318.3 348.3 V351 M351.4 348.3 V351 M384.3 348.3 V351 M417.2 348.3 V351"/>
  </g>
  <!-- brackets -->
  <g stroke="#333" stroke-width="1.8" fill="none">
    <path d="M241.9 242.7 V234.7 H257.5 V242.7"/>
    <path d="M276.9 242.7 V234.7 H293.2 V242.7"/>
  </g>
  <path fill="#111" d="M247.10 226.60 L248.04 228.61 L250.24 228.88 L248.62 230.39 L249.04 232.57 L247.10 231.50 L245.16 232.57 L245.58 230.39 L243.96 228.88 L246.16 228.61Z M253.70 226.60 L254.64 228.61 L256.84 228.88 L255.22 230.39 L255.64 232.57 L253.70 231.50 L251.76 232.57 L252.18 230.39 L250.56 228.88 L252.76 228.61Z M282.10 226.60 L283.04 228.61 L285.24 228.88 L283.62 230.39 L284.04 232.57 L282.10 231.50 L280.16 232.57 L280.58 230.39 L278.96 228.88 L281.16 228.61Z M288.70 226.60 L289.64 228.61 L291.84 228.88 L290.22 230.39 L290.64 232.57 L288.70 231.50 L286.76 232.57 L287.18 230.39 L285.56 228.88 L287.76 228.61Z"/>
  <!-- x labels -->
  <g font-size="10" font-weight="bold" fill="#111" text-anchor="end">
    <text transform="translate(255,357.3) rotate(-45)">CD 3</text>
    <text transform="translate(288.2,357.3) rotate(-45)">CD 4</text>
    <text transform="translate(321.6,357.3) rotate(-45)">CD 8</text>
    <text transform="translate(354.7,357.3) rotate(-45)">CD 19</text>
    <text transform="translate(387.6,357.3) rotate(-45)">GR1</text>
    <text transform="translate(420.5,357.3) rotate(-45)">F4/80</text>
  </g>
  <!-- legend -->
  <rect x="445.1" y="265.3" width="9.8" height="8.8" fill="#fff" stroke="#111" stroke-width="1.6"/>
  <rect x="445.1" y="293.3" width="9.8" height="9.2" fill="#666" stroke="#111" stroke-width="1.6"/>
  <g font-size="10.3" fill="#111">
    <text x="456.3" y="273.5">SK-Lymphoid</text>
    <text x="456.8" y="285">Negative</text>
    <text x="456.3" y="301.1">SK-Lymphoid</text>
    <text x="456.8" y="313.2">Positive</text>
    <text x="449.6" y="331.2" textLength="38.1" lengthAdjust="spacingAndGlyphs">**<tspan font-style="italic">P</tspan>&lt;.001</text>
  </g>
</g>
</svg>
</body></html>
